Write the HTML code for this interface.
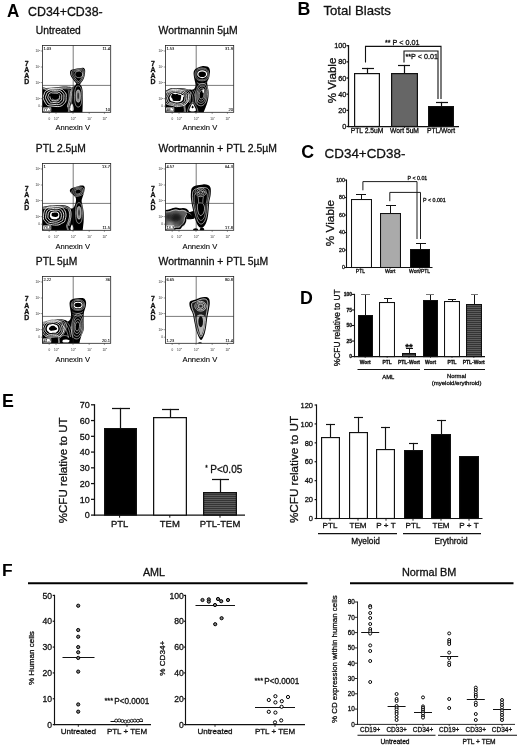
<!DOCTYPE html>
<html lang="en"><head><meta charset="utf-8"><title>Figure</title>
<style>html,body{margin:0;padding:0;background:#fff}svg{display:block}text{font-family:"Liberation Sans", Arial, Helvetica, sans-serif;stroke:#111;stroke-width:0.3px;stroke-linejoin:round}text.ns{stroke:none}text.sm{stroke-width:0.12px}text.xs{stroke-width:0.07px;stroke:#000}</style></head><body>
<svg width="520" height="745" viewBox="0 0 520 745">
<defs><pattern id="hatch" width="4" height="2" patternUnits="userSpaceOnUse"><rect width="4" height="2" fill="#343434"/><rect y="1" width="4" height="1" fill="#5c5c5c"/></pattern><filter id="b1" x="-20%" y="-20%" width="140%" height="140%"><feGaussianBlur stdDeviation="0.45"/></filter><filter id="b2" x="-20%" y="-20%" width="140%" height="140%"><feGaussianBlur stdDeviation="1.6"/></filter></defs>
<rect width="520" height="745" fill="#fff"/>
<text x="7.0" y="17.3" font-size="18" text-anchor="start" font-weight="bold" fill="#000" class="ns" textLength="12.3" lengthAdjust="spacingAndGlyphs">A</text>
<text x="28" y="16.4" font-size="12.4" text-anchor="start" fill="#111">CD34+CD38-</text>
<text x="35.8" y="34.199999999999996" font-size="10.25" text-anchor="start" fill="#111">Untreated</text>
<clipPath id="c1"><rect x="42.4" y="45.4" width="68.3" height="66.9"/></clipPath>
<g clip-path="url(#c1)">
<path d="M36.00,88.40C37.67,82.73 42.67,88.20 46.00,88.00C49.33,87.80 52.83,87.43 56.00,87.20C59.17,86.97 62.42,86.63 65.00,86.60C67.58,86.57 69.90,87.10 71.50,87.00C73.10,86.90 73.75,86.57 74.60,86.00C75.45,85.43 75.87,84.03 76.60,83.60C77.33,83.17 78.20,83.00 79.00,83.40C79.80,83.80 80.80,84.73 81.40,86.00C82.00,87.27 82.37,88.67 82.60,91.00C82.83,93.33 82.80,97.17 82.80,100.00C82.80,102.83 82.67,105.67 82.60,108.00C82.53,110.33 82.43,111.67 82.40,114.00C82.37,116.33 90.13,120.67 82.40,122.00C74.67,123.33 43.73,127.60 36.00,122.00C28.27,116.40 34.33,94.07 36.00,88.40Z" fill="#000" stroke="none" stroke-width="0"/>
<path d="M37.33,89.21C38.88,84.87 43.53,89.03 46.63,88.84C49.73,88.65 52.98,88.31 55.93,88.10C58.88,87.88 61.90,87.57 64.30,87.54C66.70,87.51 68.86,88.00 70.34,87.91C71.83,87.82 73.00,86.20 73.23,86.98C73.46,87.76 72.14,90.39 71.74,92.56C71.34,94.73 71.28,97.83 70.81,100.00C70.34,102.17 69.57,103.10 68.95,105.58C68.33,108.06 72.36,113.33 67.09,114.88C61.82,116.43 42.29,119.16 37.33,114.88C32.37,110.60 35.78,93.55 37.33,89.21Z" fill="none" stroke="#fff" stroke-width="0.55"/>
<path d="M38.85,90.14C40.27,86.17 44.52,89.97 47.35,89.80C50.18,89.63 53.16,89.32 55.85,89.12C58.54,88.92 61.30,88.64 63.50,88.61C65.70,88.58 67.67,89.03 69.03,88.95C70.39,88.87 71.45,87.39 71.66,88.10C71.87,88.81 70.67,91.22 70.30,93.20C69.93,95.18 69.88,98.02 69.45,100.00C69.03,101.98 68.32,102.83 67.75,105.10C67.18,107.37 70.87,112.18 66.05,113.60C61.23,115.02 43.38,117.51 38.85,113.60C34.32,109.69 37.43,94.11 38.85,90.14Z" fill="none" stroke="#fff" stroke-width="0.55"/>
<path d="M66.10,97.60C66.07,98.74 66.26,100.04 65.97,101.00C65.69,101.96 65.00,102.65 64.39,103.38C63.79,104.10 63.19,104.84 62.33,105.36C61.47,105.89 60.47,106.35 59.25,106.53C58.03,106.70 56.37,106.49 55.00,106.40C53.63,106.31 52.26,106.13 51.01,105.99C49.76,105.84 48.39,105.99 47.50,105.54C46.62,105.10 46.23,104.09 45.71,103.31C45.19,102.54 44.81,101.85 44.37,100.90C43.92,99.94 43.08,98.71 43.03,97.60C42.99,96.49 43.75,95.23 44.11,94.22C44.46,93.22 44.55,92.26 45.16,91.55C45.77,90.84 46.83,90.42 47.76,89.94C48.70,89.46 49.54,88.86 50.75,88.66C51.95,88.46 53.58,88.72 55.00,88.72C56.42,88.72 58.00,88.51 59.25,88.67C60.51,88.82 61.64,89.12 62.52,89.64C63.40,90.15 63.93,90.98 64.54,91.73C65.15,92.48 65.93,93.15 66.19,94.13C66.45,95.11 66.14,96.46 66.10,97.60Z" fill="none" stroke="#fff" stroke-width="0.85"/>
<path d="M63.88,97.48C63.85,98.40 64.00,99.43 63.78,100.20C63.55,100.97 63.00,101.52 62.52,102.10C62.03,102.68 61.55,103.27 60.86,103.69C60.18,104.11 59.38,104.48 58.40,104.62C57.42,104.76 56.10,104.59 55.00,104.52C53.90,104.45 52.81,104.30 51.81,104.19C50.81,104.07 49.71,104.19 49.00,103.83C48.30,103.48 47.99,102.67 47.57,102.05C47.15,101.43 46.85,100.88 46.49,100.12C46.14,99.36 45.46,98.37 45.43,97.48C45.39,96.59 46.00,95.59 46.29,94.78C46.57,93.97 46.64,93.21 47.13,92.64C47.62,92.07 48.47,91.73 49.21,91.35C49.96,90.96 50.63,90.49 51.60,90.33C52.56,90.17 53.87,90.38 55.00,90.38C56.13,90.38 57.40,90.21 58.40,90.33C59.40,90.45 60.31,90.70 61.02,91.11C61.72,91.52 62.14,92.19 62.63,92.79C63.12,93.39 63.74,93.92 63.95,94.71C64.16,95.49 63.91,96.56 63.88,97.48Z" fill="none" stroke="#fff" stroke-width="0.85"/>
<path d="M61.66,97.36C61.64,98.05 61.75,98.82 61.58,99.40C61.41,99.98 61.00,100.39 60.64,100.83C60.27,101.26 59.91,101.70 59.40,102.02C58.88,102.33 58.28,102.61 57.55,102.72C56.82,102.82 55.82,102.69 55.00,102.64C54.18,102.59 53.35,102.48 52.60,102.39C51.86,102.31 51.03,102.39 50.50,102.12C49.97,101.86 49.74,101.25 49.43,100.79C49.11,100.32 48.89,99.91 48.62,99.34C48.35,98.77 47.85,98.03 47.82,97.36C47.80,96.69 48.25,95.94 48.47,95.33C48.68,94.73 48.73,94.16 49.10,93.73C49.46,93.30 50.10,93.05 50.66,92.76C51.22,92.47 51.72,92.12 52.45,92.00C53.17,91.88 54.15,92.03 55.00,92.03C55.85,92.03 56.80,91.91 57.55,92.00C58.30,92.09 58.98,92.27 59.51,92.58C60.04,92.89 60.36,93.39 60.72,93.84C61.09,94.29 61.56,94.69 61.71,95.28C61.87,95.87 61.68,96.67 61.66,97.36Z" fill="none" stroke="#fff" stroke-width="0.85"/>
<path d="M59.66,97.25C59.65,97.73 59.73,98.28 59.61,98.68C59.49,99.08 59.20,99.37 58.95,99.68C58.69,99.98 58.44,100.29 58.08,100.51C57.72,100.73 57.30,100.93 56.78,101.00C56.27,101.07 55.58,100.99 55.00,100.95C54.42,100.91 53.85,100.83 53.32,100.77C52.80,100.71 52.22,100.77 51.85,100.59C51.48,100.40 51.32,99.98 51.10,99.65C50.88,99.33 50.72,99.04 50.53,98.64C50.35,98.24 49.99,97.72 49.97,97.25C49.96,96.78 50.28,96.26 50.43,95.83C50.57,95.41 50.61,95.01 50.87,94.71C51.12,94.41 51.57,94.24 51.96,94.03C52.35,93.83 52.71,93.58 53.21,93.50C53.72,93.41 54.40,93.52 55.00,93.52C55.60,93.52 56.26,93.44 56.79,93.50C57.31,93.56 57.79,93.69 58.16,93.91C58.53,94.12 58.75,94.47 59.01,94.79C59.26,95.10 59.59,95.38 59.70,95.80C59.81,96.21 59.68,96.77 59.66,97.25Z" fill="none" stroke="#fff" stroke-width="0.85"/>
<path d="M50.00,94.60C50.57,94.07 52.57,93.67 54.00,93.60C55.43,93.53 57.70,93.80 58.60,94.20C59.50,94.60 59.67,95.43 59.40,96.00C59.13,96.57 57.63,97.03 57.00,97.60C56.37,98.17 56.17,99.33 55.60,99.40C55.03,99.47 54.43,98.43 53.60,98.00C52.77,97.57 51.20,97.37 50.60,96.80C50.00,96.23 49.43,95.13 50.00,94.60Z" fill="#000" stroke="none" stroke-width="0"/>
<path d="M52,98.6 C54,101 57,100.6 58.6,98.4" fill="none" stroke="#fff" stroke-width="0.6"/>
<path d="M68.2,90 C69.6,95 69.2,101 67.4,107" fill="none" stroke="#fff" stroke-width="0.4"/>
<path d="M69.7,90 C71.1,95 70.7,101 68.9,107" fill="none" stroke="#fff" stroke-width="0.4"/>
<path d="M71.2,90 C72.6,95 72.2,101 70.4,107" fill="none" stroke="#fff" stroke-width="0.4"/>
<path d="M72.00,103.60C72.53,103.60 73.30,105.93 73.60,107.00C73.90,108.07 74.07,109.30 73.80,110.00C73.53,110.70 72.60,111.20 72.00,111.20C71.40,111.20 70.47,110.70 70.20,110.00C69.93,109.30 70.10,108.07 70.40,107.00C70.70,105.93 71.47,103.60 72.00,103.60Z" fill="#fff" stroke="none" stroke-width="0"/>
<path d="M81.90,96.40C81.90,97.99 81.82,99.84 81.66,101.16C81.51,102.48 81.27,103.48 80.97,104.34C80.67,105.20 80.32,105.88 79.86,106.32C79.40,106.77 78.75,107.00 78.20,107.00C77.65,107.00 77.00,106.77 76.54,106.32C76.08,105.88 75.73,105.20 75.43,104.34C75.13,103.48 74.89,102.48 74.74,101.16C74.58,99.84 74.50,97.99 74.50,96.40C74.50,94.81 74.58,92.96 74.74,91.64C74.89,90.32 75.13,89.32 75.43,88.46C75.73,87.60 76.08,86.92 76.54,86.48C77.00,86.03 77.65,85.80 78.20,85.80C78.75,85.80 79.40,86.03 79.86,86.48C80.32,86.92 80.67,87.60 80.97,88.46C81.27,89.32 81.51,90.32 81.66,91.64C81.82,92.96 81.90,94.81 81.90,96.40Z" fill="none" stroke="#fff" stroke-width="0.5"/>
<path d="M80.42,96.06C80.42,96.98 80.37,98.06 80.28,98.83C80.19,99.59 80.04,100.17 79.86,100.67C79.68,101.17 79.47,101.56 79.20,101.82C78.92,102.08 78.53,102.21 78.20,102.21C77.87,102.21 77.48,102.08 77.20,101.82C76.93,101.56 76.72,101.17 76.54,100.67C76.36,100.17 76.21,99.59 76.12,98.83C76.03,98.06 75.98,96.98 75.98,96.06C75.98,95.14 76.03,94.07 76.12,93.30C76.21,92.54 76.36,91.96 76.54,91.46C76.72,90.96 76.93,90.57 77.20,90.31C77.48,90.05 77.87,89.92 78.20,89.92C78.53,89.92 78.92,90.05 79.20,90.31C79.47,90.57 79.68,90.96 79.86,91.46C80.04,91.96 80.19,92.54 80.28,93.30C80.37,94.07 80.42,95.14 80.42,96.06Z" fill="#8a8a8a" stroke="#fff" stroke-width="0.55"/>
<path d="M79.01,95.84C79.01,96.32 79.00,96.87 78.96,97.27C78.93,97.67 78.88,97.96 78.81,98.22C78.74,98.48 78.67,98.68 78.57,98.82C78.46,98.95 78.32,99.02 78.20,99.02C78.08,99.02 77.94,98.95 77.83,98.82C77.73,98.68 77.66,98.48 77.59,98.22C77.52,97.96 77.47,97.67 77.44,97.27C77.40,96.87 77.39,96.32 77.39,95.84C77.39,95.36 77.40,94.81 77.44,94.41C77.47,94.01 77.52,93.72 77.59,93.46C77.66,93.20 77.73,93.00 77.83,92.86C77.94,92.73 78.08,92.66 78.20,92.66C78.32,92.66 78.46,92.73 78.57,92.86C78.67,93.00 78.74,93.20 78.81,93.46C78.88,93.72 78.93,94.01 78.96,94.41C79.00,94.81 79.01,95.36 79.01,95.84Z" fill="#333" stroke="none" stroke-width="0"/>
<path d="M70.00,72.80C70.03,71.93 70.03,70.83 70.80,70.20C71.57,69.57 73.17,69.33 74.60,69.00C76.03,68.67 77.97,68.40 79.40,68.20C80.83,68.00 82.27,67.53 83.20,67.80C84.13,68.07 84.70,68.83 85.00,69.80C85.30,70.77 85.17,72.23 85.00,73.60C84.83,74.97 84.50,76.67 84.00,78.00C83.50,79.33 82.73,80.50 82.00,81.60C81.27,82.70 80.37,84.10 79.60,84.60C78.83,85.10 78.17,85.03 77.40,84.60C76.63,84.17 75.83,83.03 75.00,82.00C74.17,80.97 73.13,79.50 72.40,78.40C71.67,77.30 71.00,76.33 70.60,75.40C70.20,74.47 69.97,73.67 70.00,72.80Z" fill="#000" stroke="none" stroke-width="0"/>
<path d="M71.38,73.12C71.40,72.39 71.40,71.47 72.05,70.94C72.69,70.40 74.04,70.21 75.24,69.93C76.44,69.65 78.07,69.42 79.27,69.26C80.48,69.09 81.68,68.70 82.46,68.92C83.25,69.14 83.72,69.79 83.98,70.60C84.23,71.41 84.12,72.64 83.98,73.79C83.84,74.94 83.56,76.37 83.14,77.49C82.72,78.61 82.07,79.59 81.46,80.51C80.84,81.44 80.08,82.61 79.44,83.03C78.80,83.45 78.24,83.40 77.59,83.03C76.95,82.67 76.28,81.72 75.58,80.85C74.88,79.98 74.01,78.75 73.39,77.82C72.78,76.90 72.22,76.09 71.88,75.30C71.54,74.52 71.35,73.85 71.38,73.12Z" fill="none" stroke="#fff" stroke-width="0.5"/>
<path d="M72.92,73.48C72.95,72.91 72.95,72.18 73.45,71.76C73.96,71.35 75.01,71.19 75.96,70.97C76.91,70.75 78.18,70.58 79.13,70.44C80.07,70.31 81.02,70.00 81.64,70.18C82.25,70.36 82.63,70.86 82.82,71.50C83.02,72.14 82.93,73.11 82.82,74.01C82.71,74.91 82.49,76.03 82.16,76.91C81.83,77.79 81.33,78.56 80.84,79.29C80.36,80.01 79.77,80.94 79.26,81.27C78.75,81.60 78.31,81.55 77.81,81.27C77.30,80.98 76.77,80.23 76.22,79.55C75.67,78.87 74.99,77.90 74.51,77.18C74.02,76.45 73.58,75.81 73.32,75.20C73.06,74.58 72.90,74.05 72.92,73.48Z" fill="none" stroke="#fff" stroke-width="0.5"/>
<path d="M82.70,74.40C82.70,74.90 82.57,75.45 82.33,75.89C82.10,76.32 81.72,76.72 81.29,77.01C80.85,77.30 80.30,77.52 79.73,77.62C79.16,77.72 78.44,77.72 77.87,77.62C77.30,77.52 76.75,77.30 76.31,77.01C75.88,76.72 75.50,76.32 75.27,75.89C75.03,75.45 74.90,74.90 74.90,74.40C74.90,73.90 75.03,73.35 75.27,72.91C75.50,72.48 75.88,72.08 76.31,71.79C76.75,71.50 77.30,71.28 77.87,71.18C78.44,71.08 79.16,71.08 79.73,71.18C80.30,71.28 80.85,71.50 81.29,71.79C81.72,72.08 82.10,72.48 82.33,72.91C82.57,73.35 82.70,73.90 82.70,74.40Z" fill="none" stroke="#fff" stroke-width="0.5"/>
<ellipse cx="79" cy="74.4" rx="2.3" ry="1.9" fill="#000" stroke="none" stroke-width="0.5"/>
</g>
<line x1="73.2" y1="45.4" x2="73.2" y2="112.30000000000001" stroke="#222" stroke-width="0.6"/>
<line x1="42.4" y1="85.4" x2="110.69999999999999" y2="85.4" stroke="#222" stroke-width="0.6"/>
<rect x="42.4" y="45.4" width="68.3" height="66.9" fill="none" stroke="#222" stroke-width="0.8"/>
<text x="43.4" y="50.1" font-size="4.0" text-anchor="start" fill="#000" class="xs">1.03</text>
<text x="109.89999999999999" y="50.1" font-size="4.0" text-anchor="end" fill="#000" class="xs">11.4</text>
<rect x="43.199999999999996" y="107.50000000000001" width="8.0" height="4.0" fill="#fff" stroke="none" stroke-width="0"/>
<text x="43.4" y="111.10000000000001" font-size="4.0" text-anchor="start" fill="#000" class="xs">77.1</text>
<text x="109.89999999999999" y="111.10000000000001" font-size="4.0" text-anchor="end" fill="#000" class="xs">10</text>
<line x1="40.8" y1="51.0" x2="42.4" y2="51.0" stroke="#333" stroke-width="0.5"/>
<text x="35.6" y="52.1" font-size="3.1" fill="#222" class="ns">10<tspan dy="-1.2" font-size="2.3">5</tspan></text>
<line x1="40.8" y1="67.0" x2="42.4" y2="67.0" stroke="#333" stroke-width="0.5"/>
<text x="35.6" y="68.1" font-size="3.1" fill="#222" class="ns">10<tspan dy="-1.2" font-size="2.3">4</tspan></text>
<line x1="40.8" y1="82.6" x2="42.4" y2="82.6" stroke="#333" stroke-width="0.5"/>
<text x="35.6" y="83.7" font-size="3.1" fill="#222" class="ns">10<tspan dy="-1.2" font-size="2.3">3</tspan></text>
<line x1="40.8" y1="98.69999999999999" x2="42.4" y2="98.69999999999999" stroke="#333" stroke-width="0.5"/>
<text x="35.6" y="99.8" font-size="3.1" fill="#222" class="ns">10<tspan dy="-1.2" font-size="2.3">2</tspan></text>
<line x1="40.8" y1="106.19999999999999" x2="42.4" y2="106.19999999999999" stroke="#333" stroke-width="0.5"/>
<text x="38.199999999999996" y="107.19999999999999" font-size="3.1" text-anchor="start" fill="#222" class="ns">0</text>
<line x1="56.0" y1="112.30000000000001" x2="56.0" y2="113.9" stroke="#333" stroke-width="0.5"/>
<text x="54.0" y="119.5" font-size="3.1" fill="#222" class="ns">10<tspan dy="-1.2" font-size="2.3">2</tspan></text>
<line x1="73.0" y1="112.30000000000001" x2="73.0" y2="113.9" stroke="#333" stroke-width="0.5"/>
<text x="71.0" y="119.5" font-size="3.1" fill="#222" class="ns">10<tspan dy="-1.2" font-size="2.3">3</tspan></text>
<line x1="89.19999999999999" y1="112.30000000000001" x2="89.19999999999999" y2="113.9" stroke="#333" stroke-width="0.5"/>
<text x="87.2" y="119.5" font-size="3.1" fill="#222" class="ns">10<tspan dy="-1.2" font-size="2.3">4</tspan></text>
<line x1="104.4" y1="112.30000000000001" x2="104.4" y2="113.9" stroke="#333" stroke-width="0.5"/>
<text x="102.4" y="119.5" font-size="3.1" fill="#222" class="ns">10<tspan dy="-1.2" font-size="2.3">5</tspan></text>
<line x1="49.199999999999996" y1="112.30000000000001" x2="49.199999999999996" y2="113.9" stroke="#333" stroke-width="0.5"/>
<text x="48.4" y="119.50000000000001" font-size="3.1" text-anchor="start" fill="#222" class="ns">0</text>
<text x="26.7" y="65.7" font-size="6.9" text-anchor="middle" font-weight="bold" fill="#111">7</text>
<text x="26.7" y="71.9" font-size="6.9" text-anchor="middle" font-weight="bold" fill="#111">A</text>
<text x="26.7" y="78.1" font-size="6.9" text-anchor="middle" font-weight="bold" fill="#111">A</text>
<text x="26.7" y="84.3" font-size="6.9" text-anchor="middle" font-weight="bold" fill="#111">D</text>
<text x="72.7" y="129.6" font-size="7.6" text-anchor="middle" fill="#000" class="sm">Annexin V</text>
<text x="158.6" y="34.199999999999996" font-size="10.4" text-anchor="start" fill="#111">Wortmannin 5µM</text>
<clipPath id="c2"><rect x="165.4" y="45.4" width="68.3" height="66.9"/></clipPath>
<g clip-path="url(#c2)">
<path d="M159.00,91.60C160.17,86.37 164.17,91.10 166.00,90.60C167.83,90.10 168.33,89.03 170.00,88.60C171.67,88.17 173.83,88.07 176.00,88.00C178.17,87.93 180.67,87.93 183.00,88.20C185.33,88.47 188.17,89.47 190.00,89.60C191.83,89.73 193.07,89.77 194.00,89.00C194.93,88.23 195.50,86.50 195.60,85.00C195.70,83.50 194.93,81.83 194.60,80.00C194.27,78.17 193.67,75.60 193.60,74.00C193.53,72.40 193.63,71.40 194.20,70.40C194.77,69.40 195.70,68.70 197.00,68.00C198.30,67.30 200.33,66.43 202.00,66.20C203.67,65.97 205.77,66.20 207.00,66.60C208.23,67.00 208.90,67.63 209.40,68.60C209.90,69.57 210.07,70.83 210.00,72.40C209.93,73.97 209.47,76.40 209.00,78.00C208.53,79.60 207.43,80.67 207.20,82.00C206.97,83.33 207.37,84.33 207.60,86.00C207.83,87.67 208.53,89.67 208.60,92.00C208.67,94.33 208.53,97.33 208.00,100.00C207.47,102.67 206.13,105.83 205.40,108.00C204.67,110.17 204.00,110.67 203.60,113.00C203.20,115.33 210.43,120.50 203.00,122.00C195.57,123.50 166.33,127.07 159.00,122.00C151.67,116.93 157.83,96.83 159.00,91.60Z" fill="#000" stroke="none" stroke-width="0"/>
<path d="M160.28,92.27C161.35,88.38 165.03,91.81 166.72,91.35C168.41,90.89 168.87,89.91 170.40,89.51C171.93,89.11 173.93,89.02 175.92,88.96C177.91,88.90 180.21,88.90 182.36,89.14C184.51,89.39 187.42,89.54 188.80,90.43C190.18,91.32 190.64,92.73 190.64,94.48C190.64,96.23 189.72,99.08 188.80,100.92C187.88,102.76 186.04,103.22 185.12,105.52C184.20,107.82 187.42,113.19 183.28,114.72C179.14,116.25 164.11,118.46 160.28,114.72C156.45,110.98 159.21,96.17 160.28,92.27Z" fill="none" stroke="#fff" stroke-width="0.55"/>
<path d="M161.72,93.03C162.69,89.51 166.01,92.61 167.53,92.20C169.05,91.78 169.47,90.90 170.85,90.54C172.23,90.18 174.03,90.10 175.83,90.04C177.63,89.98 179.70,89.98 181.64,90.21C183.58,90.43 186.20,90.57 187.45,91.37C188.69,92.17 189.11,93.44 189.11,95.02C189.11,96.60 188.28,99.17 187.45,100.83C186.62,102.49 184.96,102.91 184.13,104.98C183.30,107.06 186.20,111.90 182.47,113.28C178.74,114.66 165.18,116.66 161.72,113.28C158.26,109.90 160.75,96.54 161.72,93.03Z" fill="none" stroke="#fff" stroke-width="0.55"/>
<path d="M188.37,97.80C188.33,98.89 188.33,100.12 188.05,101.05C187.76,101.98 187.25,102.69 186.64,103.39C186.03,104.08 185.33,104.76 184.38,105.21C183.43,105.66 182.29,105.85 180.96,106.09C179.63,106.32 177.86,106.74 176.40,106.63C174.94,106.51 173.47,105.70 172.22,105.40C170.96,105.10 169.89,105.13 168.85,104.81C167.81,104.49 166.65,104.11 165.98,103.48C165.32,102.85 165.21,101.96 164.88,101.01C164.56,100.07 163.91,98.84 164.03,97.80C164.15,96.76 165.19,95.69 165.61,94.79C166.03,93.89 165.97,93.06 166.55,92.43C167.12,91.79 168.15,91.43 169.05,90.97C169.95,90.52 170.72,89.98 171.94,89.70C173.17,89.43 174.96,89.24 176.40,89.33C177.84,89.41 179.36,89.94 180.58,90.21C181.80,90.49 182.81,90.61 183.72,91.00C184.63,91.39 185.27,91.97 186.03,92.55C186.79,93.13 187.89,93.61 188.28,94.49C188.67,95.36 188.41,96.71 188.37,97.80Z" fill="none" stroke="#fff" stroke-width="0.8"/>
<path d="M186.70,97.80C186.66,98.74 186.66,99.79 186.41,100.59C186.17,101.39 185.73,102.01 185.21,102.60C184.68,103.20 184.08,103.79 183.26,104.18C182.45,104.56 181.47,104.73 180.32,104.93C179.18,105.13 177.65,105.49 176.40,105.39C175.15,105.29 173.88,104.60 172.80,104.34C171.72,104.08 170.80,104.10 169.91,103.83C169.02,103.55 168.01,103.23 167.44,102.69C166.87,102.14 166.77,101.38 166.49,100.56C166.21,99.75 165.66,98.69 165.76,97.80C165.87,96.91 166.76,95.98 167.12,95.21C167.48,94.44 167.43,93.72 167.93,93.18C168.42,92.63 169.31,92.32 170.08,91.93C170.85,91.54 171.51,91.07 172.57,90.84C173.62,90.60 175.16,90.44 176.40,90.51C177.64,90.59 178.94,91.04 179.99,91.28C181.04,91.52 181.91,91.62 182.70,91.95C183.48,92.29 184.03,92.78 184.68,93.28C185.33,93.78 186.28,94.20 186.62,94.95C186.95,95.70 186.73,96.86 186.70,97.80Z" fill="none" stroke="#fff" stroke-width="0.8"/>
<path d="M185.02,97.80C184.99,98.59 184.99,99.47 184.78,100.14C184.58,100.81 184.21,101.32 183.77,101.82C183.33,102.32 182.83,102.81 182.15,103.14C181.46,103.46 180.64,103.60 179.68,103.77C178.73,103.94 177.45,104.24 176.40,104.15C175.35,104.07 174.29,103.49 173.39,103.27C172.48,103.05 171.71,103.08 170.97,102.85C170.22,102.62 169.38,102.35 168.90,101.89C168.42,101.44 168.34,100.80 168.11,100.11C167.87,99.43 167.41,98.55 167.50,97.80C167.58,97.05 168.33,96.28 168.63,95.63C168.93,94.99 168.89,94.39 169.31,93.93C169.72,93.47 170.46,93.21 171.11,92.89C171.76,92.56 172.31,92.17 173.19,91.97C174.07,91.77 175.36,91.64 176.40,91.70C177.44,91.76 178.53,92.14 179.41,92.34C180.28,92.54 181.02,92.62 181.67,92.90C182.33,93.18 182.78,93.60 183.33,94.02C183.88,94.44 184.67,94.78 184.96,95.41C185.24,96.04 185.05,97.01 185.02,97.80Z" fill="none" stroke="#fff" stroke-width="0.8"/>
<path d="M183.11,97.62C183.08,98.24 183.08,98.92 182.92,99.44C182.76,99.96 182.48,100.36 182.13,100.75C181.79,101.14 181.40,101.52 180.87,101.78C180.34,102.03 179.70,102.13 178.95,102.27C178.21,102.40 177.22,102.63 176.40,102.57C175.58,102.50 174.76,102.05 174.06,101.88C173.35,101.71 172.76,101.73 172.17,101.55C171.59,101.37 170.94,101.16 170.57,100.81C170.20,100.45 170.13,99.95 169.95,99.42C169.77,98.89 169.41,98.20 169.47,97.62C169.54,97.04 170.12,96.44 170.36,95.94C170.59,95.44 170.56,94.97 170.88,94.61C171.20,94.26 171.78,94.06 172.29,93.80C172.79,93.55 173.22,93.24 173.90,93.09C174.59,92.94 175.59,92.83 176.40,92.88C177.21,92.93 178.06,93.22 178.74,93.38C179.42,93.53 179.99,93.60 180.50,93.82C181.01,94.03 181.37,94.36 181.79,94.68C182.22,95.01 182.84,95.28 183.05,95.77C183.27,96.26 183.13,97.01 183.11,97.62Z" fill="#fff" stroke="none" stroke-width="0"/>
<path d="M181.08,97.20C180.99,97.82 181.02,98.33 180.84,98.94C180.66,99.56 180.57,100.56 179.98,100.90C179.39,101.23 178.11,100.92 177.29,100.94C176.48,100.96 175.81,101.11 175.08,101.02C174.36,100.92 173.39,100.78 172.95,100.38C172.50,99.98 172.70,99.16 172.41,98.63C172.11,98.09 171.34,97.74 171.17,97.20C171.00,96.66 171.16,95.98 171.40,95.40C171.65,94.82 171.97,93.91 172.63,93.70C173.28,93.50 174.55,94.16 175.31,94.17C176.08,94.18 176.64,93.67 177.20,93.77C177.76,93.87 177.98,94.53 178.68,94.77C179.38,95.02 181.00,94.84 181.40,95.25C181.80,95.65 181.17,96.58 181.08,97.20Z" fill="#000" stroke="none" stroke-width="0"/>
<ellipse cx="182.6" cy="96.0" rx="1.5" ry="1.1" fill="#fff" stroke="none" stroke-width="0.5"/>
<path d="M190.6,91.6 C193,95 193.6,99 192.8,102.6 M192.4,90.6 C195,94 195.8,99 195.2,103.4 M194.4,89.8 C196.6,93 197.2,99 197,104.6 M188.6,93 C190.6,96 190.8,100 189.6,103" fill="none" stroke="#fff" stroke-width="0.45"/>
<path d="M192.60,103.60C193.33,103.60 194.23,105.87 194.80,107.00C195.37,108.13 196.37,109.67 196.00,110.40C195.63,111.13 193.70,111.40 192.60,111.40C191.50,111.40 189.77,111.13 189.40,110.40C189.03,109.67 189.87,108.13 190.40,107.00C190.93,105.87 191.87,103.60 192.60,103.60Z" fill="#fff" stroke="none" stroke-width="0"/>
<path d="M192.60,105.40C192.93,105.40 193.60,106.93 193.60,107.40C193.60,107.87 192.93,108.20 192.60,108.20C192.27,108.20 191.60,107.87 191.60,107.40C191.60,106.93 192.27,105.40 192.60,105.40Z" fill="#000" stroke="none" stroke-width="0"/>
<path d="M187.4,112 C188,108 189.6,104.6 192.6,102 C195.6,104.6 197.6,108 198,112" fill="none" stroke="#fff" stroke-width="0.45"/>
<path d="M207.45,95.30C207.25,96.92 206.89,98.76 206.47,100.11C206.05,101.46 205.53,102.52 204.93,103.39C204.33,104.27 203.66,104.95 202.88,105.34C202.10,105.74 201.10,105.88 200.25,105.78C199.41,105.68 198.47,105.31 197.81,104.73C197.14,104.16 196.65,103.34 196.28,102.35C195.90,101.36 195.65,100.20 195.56,98.79C195.47,97.38 195.56,95.51 195.75,93.90C195.95,92.28 196.31,90.44 196.73,89.09C197.15,87.74 197.67,86.68 198.27,85.81C198.87,84.93 199.54,84.25 200.32,83.86C201.10,83.46 202.10,83.32 202.95,83.42C203.79,83.52 204.73,83.89 205.39,84.47C206.06,85.04 206.55,85.86 206.92,86.85C207.30,87.84 207.55,89.00 207.64,90.41C207.73,91.82 207.64,93.69 207.45,95.30Z" fill="none" stroke="#fff" stroke-width="0.55"/>
<path d="M206.17,95.15C206.01,96.41 205.73,97.85 205.41,98.90C205.08,99.96 204.67,100.79 204.20,101.47C203.73,102.15 203.21,102.68 202.60,102.99C201.99,103.31 201.21,103.42 200.55,103.34C199.89,103.26 199.15,102.96 198.64,102.52C198.12,102.07 197.73,101.43 197.44,100.66C197.15,99.88 196.95,98.98 196.88,97.88C196.81,96.77 196.88,95.31 197.03,94.05C197.19,92.79 197.47,91.35 197.79,90.30C198.12,89.24 198.53,88.41 199.00,87.73C199.47,87.05 199.99,86.52 200.60,86.21C201.21,85.89 201.99,85.78 202.65,85.86C203.31,85.94 204.05,86.24 204.56,86.68C205.08,87.13 205.47,87.77 205.76,88.54C206.05,89.32 206.25,90.22 206.32,91.32C206.39,92.43 206.32,93.89 206.17,95.15Z" fill="none" stroke="#fff" stroke-width="0.55"/>
<path d="M204.98,95.01C204.87,95.94 204.66,97.01 204.42,97.78C204.17,98.56 203.87,99.18 203.52,99.68C203.18,100.19 202.79,100.58 202.34,100.81C201.89,101.04 201.31,101.12 200.82,101.07C200.33,101.01 199.79,100.79 199.41,100.46C199.02,100.13 198.74,99.65 198.52,99.08C198.31,98.51 198.16,97.84 198.11,97.02C198.06,96.21 198.11,95.13 198.22,94.19C198.33,93.26 198.54,92.19 198.78,91.42C199.03,90.64 199.33,90.02 199.68,89.52C200.02,89.01 200.41,88.62 200.86,88.39C201.31,88.16 201.89,88.08 202.38,88.13C202.87,88.19 203.41,88.41 203.79,88.74C204.18,89.07 204.46,89.55 204.68,90.12C204.89,90.69 205.04,91.36 205.09,92.18C205.14,92.99 205.09,94.07 204.98,95.01Z" fill="none" stroke="#fff" stroke-width="0.55"/>
<path d="M203.88,94.88C203.81,95.51 203.67,96.23 203.50,96.75C203.34,97.28 203.13,97.69 202.90,98.04C202.67,98.38 202.40,98.64 202.10,98.80C201.79,98.95 201.40,99.01 201.07,98.97C200.74,98.93 200.38,98.78 200.12,98.56C199.86,98.33 199.67,98.01 199.52,97.63C199.37,97.24 199.27,96.79 199.24,96.24C199.21,95.69 199.24,94.96 199.32,94.32C199.39,93.69 199.53,92.97 199.70,92.45C199.86,91.92 200.07,91.51 200.30,91.16C200.53,90.82 200.80,90.56 201.10,90.40C201.41,90.25 201.80,90.19 202.13,90.23C202.46,90.27 202.82,90.42 203.08,90.64C203.34,90.87 203.53,91.19 203.68,91.57C203.83,91.96 203.93,92.41 203.96,92.96C203.99,93.51 203.96,94.24 203.88,94.88Z" fill="none" stroke="#fff" stroke-width="0.55"/>
<ellipse cx="203.2" cy="91" rx="0.8" ry="2.0" fill="#fff" stroke="none" stroke-width="0.5"/>
<path d="M209.00,74.40C209.00,75.33 208.84,76.39 208.53,77.18C208.23,77.97 207.76,78.60 207.18,79.13C206.60,79.67 205.90,80.10 205.04,80.37C204.17,80.65 203.01,80.80 202.00,80.80C200.99,80.80 199.83,80.65 198.96,80.37C198.10,80.10 197.40,79.67 196.82,79.13C196.24,78.60 195.77,77.97 195.47,77.18C195.16,76.39 195.00,75.33 195.00,74.40C195.00,73.47 195.16,72.41 195.47,71.62C195.77,70.83 196.24,70.20 196.82,69.67C197.40,69.13 198.10,68.70 198.96,68.43C199.83,68.15 200.99,68.00 202.00,68.00C203.01,68.00 204.17,68.15 205.04,68.43C205.90,68.70 206.60,69.13 207.18,69.67C207.76,70.20 208.23,70.83 208.53,71.62C208.84,72.41 209.00,73.47 209.00,74.40Z" fill="none" stroke="#fff" stroke-width="0.45"/>
<path d="M207.88,74.40C207.88,75.18 207.74,76.07 207.49,76.73C207.23,77.39 206.84,77.93 206.35,78.38C205.86,78.82 205.28,79.19 204.55,79.42C203.83,79.65 202.85,79.78 202.00,79.78C201.15,79.78 200.17,79.65 199.45,79.42C198.72,79.19 198.14,78.82 197.65,78.38C197.16,77.93 196.77,77.39 196.51,76.73C196.26,76.07 196.12,75.18 196.12,74.40C196.12,73.62 196.26,72.73 196.51,72.07C196.77,71.41 197.16,70.87 197.65,70.42C198.14,69.98 198.72,69.61 199.45,69.38C200.17,69.15 201.15,69.02 202.00,69.02C202.85,69.02 203.83,69.15 204.55,69.38C205.28,69.61 205.86,69.98 206.35,70.42C206.84,70.87 207.23,71.41 207.49,72.07C207.74,72.73 207.88,73.62 207.88,74.40Z" fill="none" stroke="#fff" stroke-width="0.45"/>
<ellipse cx="202.2" cy="74.2" rx="4.4" ry="3.4" fill="#000" stroke="#fff" stroke-width="1.2"/>
<path d="M197,82.6 C199.6,84.6 204,84.6 206.4,82.4 M198,85 C200,86.2 204,86.2 206.2,84.8" fill="none" stroke="#fff" stroke-width="0.45"/>
</g>
<line x1="196.20000000000002" y1="45.4" x2="196.20000000000002" y2="112.30000000000001" stroke="#222" stroke-width="0.6"/>
<line x1="165.4" y1="85.4" x2="233.7" y2="85.4" stroke="#222" stroke-width="0.6"/>
<rect x="165.4" y="45.4" width="68.3" height="66.9" fill="none" stroke="#222" stroke-width="0.8"/>
<text x="166.4" y="50.1" font-size="4.0" text-anchor="start" fill="#000" class="xs">1.53</text>
<text x="232.89999999999998" y="50.1" font-size="4.0" text-anchor="end" fill="#000" class="xs">31.9</text>
<rect x="166.20000000000002" y="107.50000000000001" width="8.0" height="4.0" fill="#fff" stroke="none" stroke-width="0"/>
<text x="166.4" y="111.10000000000001" font-size="4.0" text-anchor="start" fill="#000" class="xs">46.1</text>
<text x="232.89999999999998" y="111.10000000000001" font-size="4.0" text-anchor="end" fill="#000" class="xs">20</text>
<line x1="163.8" y1="51.0" x2="165.4" y2="51.0" stroke="#333" stroke-width="0.5"/>
<text x="158.6" y="52.1" font-size="3.1" fill="#222" class="ns">10<tspan dy="-1.2" font-size="2.3">5</tspan></text>
<line x1="163.8" y1="67.0" x2="165.4" y2="67.0" stroke="#333" stroke-width="0.5"/>
<text x="158.6" y="68.1" font-size="3.1" fill="#222" class="ns">10<tspan dy="-1.2" font-size="2.3">4</tspan></text>
<line x1="163.8" y1="82.6" x2="165.4" y2="82.6" stroke="#333" stroke-width="0.5"/>
<text x="158.6" y="83.7" font-size="3.1" fill="#222" class="ns">10<tspan dy="-1.2" font-size="2.3">3</tspan></text>
<line x1="163.8" y1="98.69999999999999" x2="165.4" y2="98.69999999999999" stroke="#333" stroke-width="0.5"/>
<text x="158.6" y="99.8" font-size="3.1" fill="#222" class="ns">10<tspan dy="-1.2" font-size="2.3">2</tspan></text>
<line x1="163.8" y1="106.19999999999999" x2="165.4" y2="106.19999999999999" stroke="#333" stroke-width="0.5"/>
<text x="161.20000000000002" y="107.19999999999999" font-size="3.1" text-anchor="start" fill="#222" class="ns">0</text>
<line x1="179.0" y1="112.30000000000001" x2="179.0" y2="113.9" stroke="#333" stroke-width="0.5"/>
<text x="177.0" y="119.5" font-size="3.1" fill="#222" class="ns">10<tspan dy="-1.2" font-size="2.3">2</tspan></text>
<line x1="196.0" y1="112.30000000000001" x2="196.0" y2="113.9" stroke="#333" stroke-width="0.5"/>
<text x="194.0" y="119.5" font-size="3.1" fill="#222" class="ns">10<tspan dy="-1.2" font-size="2.3">3</tspan></text>
<line x1="212.2" y1="112.30000000000001" x2="212.2" y2="113.9" stroke="#333" stroke-width="0.5"/>
<text x="210.2" y="119.5" font-size="3.1" fill="#222" class="ns">10<tspan dy="-1.2" font-size="2.3">4</tspan></text>
<line x1="227.4" y1="112.30000000000001" x2="227.4" y2="113.9" stroke="#333" stroke-width="0.5"/>
<text x="225.4" y="119.5" font-size="3.1" fill="#222" class="ns">10<tspan dy="-1.2" font-size="2.3">5</tspan></text>
<line x1="172.20000000000002" y1="112.30000000000001" x2="172.20000000000002" y2="113.9" stroke="#333" stroke-width="0.5"/>
<text x="171.4" y="119.50000000000001" font-size="3.1" text-anchor="start" fill="#222" class="ns">0</text>
<text x="153" y="65.7" font-size="6.9" text-anchor="middle" font-weight="bold" fill="#111">7</text>
<text x="153" y="71.9" font-size="6.9" text-anchor="middle" font-weight="bold" fill="#111">A</text>
<text x="153" y="78.1" font-size="6.9" text-anchor="middle" font-weight="bold" fill="#111">A</text>
<text x="153" y="84.3" font-size="6.9" text-anchor="middle" font-weight="bold" fill="#111">D</text>
<text x="199.9" y="129.6" font-size="7.6" text-anchor="middle" fill="#000" class="sm">Annexin V</text>
<text x="35.8" y="152.4" font-size="10.25" text-anchor="start" fill="#111">PTL 2.5µM</text>
<clipPath id="c3"><rect x="42.4" y="163.4" width="68.3" height="66.9"/></clipPath>
<g clip-path="url(#c3)">
<path d="M36.00,207.40C37.00,201.90 39.67,207.30 42.00,207.00C44.33,206.70 47.00,205.93 50.00,205.60C53.00,205.27 57.17,204.93 60.00,205.00C62.83,205.07 65.17,205.43 67.00,206.00C68.83,206.57 69.90,208.13 71.00,208.40C72.10,208.67 72.83,208.50 73.60,207.60C74.37,206.70 75.23,204.60 75.60,203.00C75.97,201.40 76.23,199.33 75.80,198.00C75.37,196.67 73.97,196.10 73.00,195.00C72.03,193.90 70.33,192.47 70.00,191.40C69.67,190.33 69.83,189.40 71.00,188.60C72.17,187.80 75.17,187.10 77.00,186.60C78.83,186.10 80.73,185.53 82.00,185.60C83.27,185.67 84.23,185.93 84.60,187.00C84.97,188.07 84.53,190.33 84.20,192.00C83.87,193.67 83.03,195.50 82.60,197.00C82.17,198.50 81.63,199.67 81.60,201.00C81.57,202.33 82.07,203.17 82.40,205.00C82.73,206.83 83.40,209.17 83.60,212.00C83.80,214.83 83.77,218.83 83.60,222.00C83.43,225.17 82.80,228.00 82.60,231.00C82.40,234.00 90.17,238.50 82.40,240.00C74.63,241.50 43.73,245.43 36.00,240.00C28.27,234.57 35.00,212.90 36.00,207.40Z" fill="#000" stroke="none" stroke-width="0"/>
<path d="M37.30,208.14C38.23,203.96 40.71,208.05 42.88,207.77C45.05,207.49 47.53,206.78 50.32,206.47C53.11,206.16 56.99,205.85 59.62,205.91C62.26,205.97 64.43,206.31 66.13,206.84C67.84,207.37 69.02,207.83 69.85,209.07C70.69,210.31 71.15,212.33 71.15,214.28C71.15,216.23 70.44,218.77 69.85,220.79C69.26,222.81 68.24,224.36 67.62,226.37C67.00,228.38 71.19,231.79 66.13,232.88C61.08,233.97 42.11,237.00 37.30,232.88C32.50,228.76 36.37,212.33 37.30,208.14Z" fill="none" stroke="#fff" stroke-width="0.55"/>
<path d="M38.79,208.99C39.64,205.17 41.91,208.91 43.89,208.65C45.87,208.40 48.14,207.74 50.69,207.46C53.24,207.18 56.78,206.89 59.19,206.95C61.60,207.01 63.58,207.32 65.14,207.80C66.70,208.28 67.77,208.71 68.54,209.84C69.30,210.97 69.73,212.81 69.73,214.60C69.73,216.38 69.08,218.71 68.54,220.55C68.00,222.39 67.07,223.81 66.50,225.65C65.93,227.49 69.76,230.61 65.14,231.60C60.52,232.59 43.18,235.37 38.79,231.60C34.40,227.83 37.94,212.81 38.79,208.99Z" fill="none" stroke="#fff" stroke-width="0.55"/>
<path d="M66.00,215.80C65.95,216.93 65.59,218.13 65.33,219.14C65.07,220.15 65.04,221.17 64.43,221.87C63.82,222.57 62.59,222.82 61.66,223.31C60.74,223.81 60.06,224.55 58.89,224.84C57.71,225.13 55.99,225.15 54.60,225.07C53.21,225.00 51.75,224.65 50.52,224.41C49.29,224.17 48.07,224.14 47.21,223.65C46.36,223.17 45.97,222.24 45.36,221.50C44.75,220.77 43.87,220.19 43.56,219.24C43.25,218.29 43.44,216.93 43.50,215.80C43.56,214.67 43.69,213.47 43.94,212.48C44.19,211.49 44.48,210.66 44.99,209.86C45.49,209.07 46.06,208.15 46.98,207.69C47.90,207.24 49.22,207.30 50.49,207.13C51.76,206.96 53.19,206.74 54.60,206.66C56.01,206.58 57.64,206.52 58.92,206.68C60.21,206.83 61.40,207.08 62.31,207.60C63.22,208.12 63.81,208.98 64.36,209.77C64.91,210.57 65.33,211.37 65.60,212.38C65.87,213.38 66.04,214.67 66.00,215.80Z" fill="none" stroke="#fff" stroke-width="0.85"/>
<path d="M63.72,215.72C63.68,216.62 63.39,217.58 63.18,218.39C62.97,219.20 62.95,220.02 62.47,220.58C61.98,221.13 60.99,221.33 60.25,221.73C59.51,222.13 58.97,222.72 58.03,222.95C57.09,223.19 55.72,223.20 54.60,223.14C53.48,223.08 52.32,222.80 51.34,222.61C50.35,222.42 49.38,222.39 48.69,222.00C48.00,221.62 47.70,220.87 47.21,220.28C46.72,219.69 46.02,219.23 45.77,218.47C45.52,217.71 45.67,216.62 45.72,215.72C45.77,214.82 45.87,213.86 46.07,213.07C46.27,212.27 46.50,211.61 46.91,210.97C47.32,210.33 47.77,209.60 48.50,209.24C49.24,208.87 50.30,208.92 51.31,208.79C52.33,208.65 53.48,208.47 54.60,208.41C55.72,208.35 57.03,208.30 58.06,208.42C59.09,208.55 60.04,208.75 60.77,209.16C61.49,209.57 61.97,210.26 62.41,210.90C62.85,211.54 63.18,212.18 63.40,212.98C63.62,213.78 63.75,214.82 63.72,215.72Z" fill="none" stroke="#fff" stroke-width="0.85"/>
<path d="M61.44,215.64C61.41,216.32 61.19,217.04 61.04,217.64C60.88,218.25 60.87,218.86 60.50,219.28C60.13,219.70 59.39,219.85 58.84,220.15C58.28,220.44 57.88,220.89 57.17,221.06C56.46,221.24 55.44,221.25 54.60,221.20C53.76,221.16 52.89,220.95 52.15,220.81C51.41,220.66 50.68,220.64 50.17,220.35C49.65,220.06 49.42,219.50 49.06,219.06C48.69,218.62 48.16,218.27 47.98,217.70C47.79,217.13 47.90,216.32 47.94,215.64C47.98,214.96 48.06,214.24 48.20,213.65C48.35,213.06 48.53,212.56 48.83,212.08C49.14,211.60 49.48,211.05 50.03,210.78C50.58,210.50 51.37,210.54 52.13,210.44C52.90,210.34 53.76,210.20 54.60,210.16C55.44,210.11 56.42,210.07 57.19,210.17C57.97,210.26 58.68,210.41 59.23,210.72C59.77,211.03 60.13,211.55 60.46,212.02C60.79,212.50 61.04,212.98 61.20,213.59C61.36,214.19 61.46,214.96 61.44,215.64Z" fill="none" stroke="#fff" stroke-width="0.85"/>
<path d="M59.39,215.34C59.37,215.81 59.21,216.31 59.11,216.74C59.00,217.16 58.99,217.59 58.73,217.89C58.47,218.18 57.96,218.28 57.57,218.49C57.18,218.70 56.89,219.01 56.40,219.13C55.91,219.26 55.19,219.26 54.60,219.23C54.01,219.20 53.40,219.05 52.89,218.95C52.37,218.85 51.86,218.84 51.50,218.63C51.14,218.43 50.98,218.04 50.72,217.73C50.46,217.42 50.09,217.18 49.96,216.78C49.83,216.38 49.91,215.81 49.94,215.34C49.96,214.86 50.02,214.36 50.12,213.94C50.23,213.53 50.35,213.18 50.56,212.84C50.78,212.51 51.01,212.12 51.40,211.93C51.78,211.74 52.34,211.77 52.87,211.70C53.41,211.62 54.01,211.53 54.60,211.50C55.19,211.47 55.88,211.44 56.42,211.50C56.96,211.57 57.46,211.68 57.84,211.89C58.22,212.11 58.47,212.47 58.70,212.80C58.93,213.14 59.11,213.48 59.22,213.90C59.33,214.32 59.41,214.86 59.39,215.34Z" fill="#fff" stroke="none" stroke-width="0"/>
<path d="M58.30,214.74C58.29,215.01 58.18,215.29 58.10,215.54C58.02,215.78 58.01,216.03 57.83,216.19C57.65,216.36 57.28,216.42 57.00,216.54C56.72,216.66 56.52,216.84 56.17,216.91C55.81,216.98 55.30,216.98 54.88,216.96C54.46,216.94 54.02,216.86 53.66,216.80C53.29,216.75 52.92,216.74 52.66,216.62C52.41,216.50 52.29,216.28 52.11,216.10C51.93,215.93 51.66,215.79 51.57,215.56C51.47,215.33 51.53,215.01 51.55,214.74C51.57,214.47 51.61,214.18 51.68,213.94C51.76,213.70 51.84,213.50 52.00,213.31C52.15,213.12 52.32,212.90 52.59,212.79C52.87,212.68 53.27,212.70 53.65,212.66C54.03,212.61 54.46,212.56 54.88,212.54C55.30,212.52 55.79,212.51 56.18,212.55C56.56,212.58 56.92,212.64 57.19,212.77C57.46,212.89 57.64,213.10 57.81,213.29C57.97,213.48 58.10,213.67 58.18,213.91C58.26,214.16 58.31,214.47 58.30,214.74Z" fill="#000" stroke="none" stroke-width="0"/>
<path d="M68.6,208 C70.0,214 69.6,220 67.8,226" fill="none" stroke="#fff" stroke-width="0.4"/>
<path d="M70.1,208 C71.5,214 71.1,220 69.3,226" fill="none" stroke="#fff" stroke-width="0.4"/>
<path d="M72.00,224.60C72.40,224.60 72.97,226.20 73.20,227.00C73.43,227.80 73.60,228.90 73.40,229.40C73.20,229.90 72.47,230.00 72.00,230.00C71.53,230.00 70.80,229.90 70.60,229.40C70.40,228.90 70.57,227.80 70.80,227.00C71.03,226.20 71.60,224.60 72.00,224.60Z" fill="#fff" stroke="none" stroke-width="0"/>
<path d="M82.40,213.00C82.40,214.56 82.33,216.37 82.18,217.67C82.04,218.97 81.82,219.95 81.55,220.79C81.27,221.64 80.95,222.30 80.53,222.74C80.10,223.17 79.51,223.40 79.00,223.40C78.49,223.40 77.90,223.17 77.47,222.74C77.05,222.30 76.73,221.64 76.45,220.79C76.18,219.95 75.96,218.97 75.82,217.67C75.67,216.37 75.60,214.56 75.60,213.00C75.60,211.44 75.67,209.63 75.82,208.33C75.96,207.03 76.18,206.05 76.45,205.21C76.73,204.36 77.05,203.70 77.47,203.26C77.90,202.83 78.49,202.60 79.00,202.60C79.51,202.60 80.10,202.83 80.53,203.26C80.95,203.70 81.27,204.36 81.55,205.21C81.82,206.05 82.04,207.03 82.18,208.33C82.33,209.63 82.40,211.44 82.40,213.00Z" fill="none" stroke="#fff" stroke-width="0.5"/>
<path d="M81.11,212.84C81.11,213.77 81.06,214.86 80.97,215.64C80.89,216.42 80.75,217.01 80.58,217.51C80.41,218.02 80.21,218.42 79.95,218.68C79.68,218.94 79.32,219.08 79.00,219.08C78.68,219.08 78.32,218.94 78.05,218.68C77.79,218.42 77.59,218.02 77.42,217.51C77.25,217.01 77.11,216.42 77.03,215.64C76.94,214.86 76.89,213.77 76.89,212.84C76.89,211.91 76.94,210.82 77.03,210.04C77.11,209.26 77.25,208.67 77.42,208.17C77.59,207.66 77.79,207.26 78.05,207.00C78.32,206.74 78.68,206.60 79.00,206.60C79.32,206.60 79.68,206.74 79.95,207.00C80.21,207.26 80.41,207.66 80.58,208.17C80.75,208.67 80.89,209.26 80.97,210.04C81.06,210.82 81.11,211.91 81.11,212.84Z" fill="#8a8a8a" stroke="#fff" stroke-width="0.55"/>
<path d="M79.75,212.72C79.75,213.19 79.73,213.73 79.70,214.12C79.67,214.51 79.62,214.80 79.56,215.06C79.50,215.31 79.43,215.51 79.34,215.64C79.24,215.77 79.11,215.84 79.00,215.84C78.89,215.84 78.76,215.77 78.66,215.64C78.57,215.51 78.50,215.31 78.44,215.06C78.38,214.80 78.33,214.51 78.30,214.12C78.27,213.73 78.25,213.19 78.25,212.72C78.25,212.25 78.27,211.71 78.30,211.32C78.33,210.93 78.38,210.64 78.44,210.38C78.50,210.13 78.57,209.93 78.66,209.80C78.76,209.67 78.89,209.60 79.00,209.60C79.11,209.60 79.24,209.67 79.34,209.80C79.43,209.93 79.50,210.13 79.56,210.38C79.62,210.64 79.67,210.93 79.70,211.32C79.73,211.71 79.75,212.25 79.75,212.72Z" fill="#333" stroke="none" stroke-width="0"/>
<path d="M83.91,190.09C84.02,190.72 84.04,191.42 83.92,192.02C83.80,192.63 83.59,193.22 83.18,193.72C82.78,194.22 82.17,194.66 81.49,195.03C80.81,195.40 79.93,195.72 79.11,195.94C78.29,196.16 77.35,196.34 76.56,196.36C75.77,196.38 74.99,196.32 74.36,196.08C73.73,195.85 73.20,195.44 72.79,194.95C72.38,194.46 72.02,193.79 71.90,193.16C71.77,192.53 71.89,191.79 72.04,191.17C72.18,190.56 72.37,189.97 72.77,189.46C73.18,188.96 73.80,188.51 74.48,188.14C75.17,187.77 76.06,187.43 76.88,187.23C77.71,187.03 78.65,186.91 79.42,186.93C80.18,186.94 80.85,187.09 81.49,187.30C82.13,187.52 82.84,187.76 83.25,188.23C83.65,188.69 83.80,189.46 83.91,190.09Z" fill="none" stroke="#fff" stroke-width="0.5"/>
<path d="M82.43,190.48C82.51,190.95 82.52,191.47 82.43,191.91C82.34,192.36 82.19,192.80 81.89,193.17C81.59,193.54 81.14,193.87 80.64,194.14C80.14,194.42 79.48,194.65 78.87,194.81C78.26,194.98 77.57,195.10 76.99,195.12C76.40,195.14 75.82,195.09 75.36,194.92C74.89,194.74 74.50,194.44 74.20,194.08C73.90,193.72 73.63,193.22 73.54,192.75C73.44,192.29 73.53,191.74 73.64,191.28C73.75,190.83 73.88,190.39 74.18,190.02C74.49,189.64 74.94,189.31 75.45,189.04C75.95,188.76 76.62,188.52 77.23,188.37C77.84,188.22 78.53,188.13 79.10,188.14C79.67,188.15 80.16,188.26 80.64,188.42C81.11,188.58 81.64,188.76 81.93,189.10C82.23,189.45 82.34,190.01 82.43,190.48Z" fill="none" stroke="#fff" stroke-width="0.5"/>
<path d="M81.06,190.85C81.11,191.16 81.12,191.51 81.06,191.81C81.00,192.11 80.89,192.41 80.69,192.66C80.49,192.91 80.19,193.13 79.85,193.32C79.51,193.50 79.07,193.66 78.65,193.77C78.24,193.88 77.78,193.97 77.38,193.98C76.98,193.99 76.59,193.96 76.28,193.84C75.96,193.72 75.70,193.52 75.50,193.27C75.29,193.03 75.11,192.69 75.05,192.38C74.99,192.06 75.04,191.69 75.12,191.39C75.19,191.08 75.28,190.78 75.49,190.53C75.69,190.28 76.00,190.06 76.34,189.87C76.68,189.68 77.13,189.52 77.54,189.42C77.95,189.31 78.42,189.26 78.81,189.26C79.19,189.27 79.53,189.34 79.85,189.45C80.17,189.56 80.52,189.68 80.72,189.91C80.92,190.15 81.00,190.53 81.06,190.85Z" fill="none" stroke="#fff" stroke-width="0.5"/>
<ellipse cx="78.6" cy="191.4" rx="2.0" ry="1.6" fill="#000" stroke="none" stroke-width="0.5"/>
</g>
<line x1="73.2" y1="163.4" x2="73.2" y2="230.3" stroke="#222" stroke-width="0.6"/>
<line x1="42.4" y1="203.4" x2="110.69999999999999" y2="203.4" stroke="#222" stroke-width="0.6"/>
<rect x="42.4" y="163.4" width="68.3" height="66.9" fill="none" stroke="#222" stroke-width="0.8"/>
<text x="43.4" y="168.1" font-size="4.0" text-anchor="start" fill="#000" class="xs">1</text>
<text x="109.89999999999999" y="168.1" font-size="4.0" text-anchor="end" fill="#000" class="xs">13.7</text>
<rect x="43.199999999999996" y="225.5" width="8.0" height="4.0" fill="#fff" stroke="none" stroke-width="0"/>
<text x="43.4" y="229.10000000000002" font-size="4.0" text-anchor="start" fill="#000" class="xs">73.8</text>
<text x="109.89999999999999" y="229.10000000000002" font-size="4.0" text-anchor="end" fill="#000" class="xs">11.5</text>
<line x1="40.8" y1="169.0" x2="42.4" y2="169.0" stroke="#333" stroke-width="0.5"/>
<text x="35.6" y="170.1" font-size="3.1" fill="#222" class="ns">10<tspan dy="-1.2" font-size="2.3">5</tspan></text>
<line x1="40.8" y1="185.0" x2="42.4" y2="185.0" stroke="#333" stroke-width="0.5"/>
<text x="35.6" y="186.1" font-size="3.1" fill="#222" class="ns">10<tspan dy="-1.2" font-size="2.3">4</tspan></text>
<line x1="40.8" y1="200.60000000000002" x2="42.4" y2="200.60000000000002" stroke="#333" stroke-width="0.5"/>
<text x="35.6" y="201.7" font-size="3.1" fill="#222" class="ns">10<tspan dy="-1.2" font-size="2.3">3</tspan></text>
<line x1="40.8" y1="216.7" x2="42.4" y2="216.7" stroke="#333" stroke-width="0.5"/>
<text x="35.6" y="217.8" font-size="3.1" fill="#222" class="ns">10<tspan dy="-1.2" font-size="2.3">2</tspan></text>
<line x1="40.8" y1="224.2" x2="42.4" y2="224.2" stroke="#333" stroke-width="0.5"/>
<text x="38.199999999999996" y="225.2" font-size="3.1" text-anchor="start" fill="#222" class="ns">0</text>
<line x1="56.0" y1="230.3" x2="56.0" y2="231.9" stroke="#333" stroke-width="0.5"/>
<text x="54.0" y="237.5" font-size="3.1" fill="#222" class="ns">10<tspan dy="-1.2" font-size="2.3">2</tspan></text>
<line x1="73.0" y1="230.3" x2="73.0" y2="231.9" stroke="#333" stroke-width="0.5"/>
<text x="71.0" y="237.5" font-size="3.1" fill="#222" class="ns">10<tspan dy="-1.2" font-size="2.3">3</tspan></text>
<line x1="89.19999999999999" y1="230.3" x2="89.19999999999999" y2="231.9" stroke="#333" stroke-width="0.5"/>
<text x="87.2" y="237.5" font-size="3.1" fill="#222" class="ns">10<tspan dy="-1.2" font-size="2.3">4</tspan></text>
<line x1="104.4" y1="230.3" x2="104.4" y2="231.9" stroke="#333" stroke-width="0.5"/>
<text x="102.4" y="237.5" font-size="3.1" fill="#222" class="ns">10<tspan dy="-1.2" font-size="2.3">5</tspan></text>
<line x1="49.199999999999996" y1="230.3" x2="49.199999999999996" y2="231.9" stroke="#333" stroke-width="0.5"/>
<text x="48.4" y="237.5" font-size="3.1" text-anchor="start" fill="#222" class="ns">0</text>
<text x="26.7" y="191.2" font-size="6.9" text-anchor="middle" font-weight="bold" fill="#111">7</text>
<text x="26.7" y="197.4" font-size="6.9" text-anchor="middle" font-weight="bold" fill="#111">A</text>
<text x="26.7" y="203.6" font-size="6.9" text-anchor="middle" font-weight="bold" fill="#111">A</text>
<text x="26.7" y="209.8" font-size="6.9" text-anchor="middle" font-weight="bold" fill="#111">D</text>
<text x="72.7" y="249.4" font-size="7.6" text-anchor="middle" fill="#000" class="sm">Annexin V</text>
<text x="158.6" y="152.4" font-size="10.4" text-anchor="start" fill="#111">Wortmannin + PTL 2.5µM</text>
<clipPath id="c4"><rect x="165.4" y="163.4" width="68.3" height="66.9"/></clipPath>
<g clip-path="url(#c4)">
<path d="M159.00,211.00C160.00,207.80 163.33,210.90 165.00,210.80C166.67,210.70 167.83,210.67 169.00,210.40C170.17,210.13 170.83,209.53 172.00,209.20C173.17,208.87 174.67,208.40 176.00,208.40C177.33,208.40 178.83,209.13 180.00,209.20C181.17,209.27 182.00,208.73 183.00,208.80C184.00,208.87 185.13,209.07 186.00,209.60C186.87,210.13 188.03,211.03 188.20,212.00C188.37,212.97 187.43,214.40 187.00,215.40C186.57,216.40 185.87,217.07 185.60,218.00C185.33,218.93 185.67,220.00 185.40,221.00C185.13,222.00 184.63,223.17 184.00,224.00C183.37,224.83 182.27,225.30 181.60,226.00C180.93,226.70 180.93,227.80 180.00,228.20C179.07,228.60 177.33,228.20 176.00,228.40C174.67,228.60 173.67,229.20 172.00,229.40C170.33,229.60 168.17,229.50 166.00,229.60C163.83,229.70 160.17,233.10 159.00,230.00C157.83,226.90 158.00,214.20 159.00,211.00Z" fill="#6a6a6a" stroke="#000" stroke-width="1.7"/>
<path d="M160.26,212.18C161.17,209.42 164.20,212.09 165.72,212.00C167.24,211.92 168.30,211.89 169.36,211.66C170.42,211.43 171.03,210.91 172.09,210.63C173.15,210.34 174.52,209.94 175.73,209.94C176.94,209.94 178.31,210.57 179.37,210.63C180.43,210.69 181.19,210.23 182.10,210.28C183.01,210.34 184.04,210.51 184.83,210.97C185.62,211.43 186.68,212.20 186.83,213.04C186.98,213.87 186.13,215.10 185.74,215.96C185.35,216.82 184.71,217.39 184.47,218.20C184.22,219.00 184.53,219.92 184.28,220.78C184.04,221.64 183.59,222.64 183.01,223.36C182.43,224.07 181.43,224.47 180.83,225.08C180.22,225.68 180.22,226.62 179.37,226.97C178.52,227.31 176.94,226.97 175.73,227.14C174.52,227.31 173.61,227.83 172.09,228.00C170.57,228.17 168.60,228.09 166.63,228.17C164.66,228.26 161.32,231.18 160.26,228.52C159.20,225.85 159.35,214.93 160.26,212.18Z" fill="#6a6a6a" stroke="#fff" stroke-width="0.55"/>
<path d="M161.24,212.85C162.08,210.35 164.88,212.77 166.28,212.69C167.68,212.61 168.66,212.59 169.64,212.38C170.62,212.17 171.18,211.70 172.16,211.44C173.14,211.18 174.40,210.82 175.52,210.82C176.64,210.82 177.90,211.39 178.88,211.44C179.86,211.50 180.56,211.08 181.40,211.13C182.24,211.18 183.19,211.34 183.92,211.76C184.65,212.17 185.63,212.87 185.77,213.63C185.91,214.38 185.12,215.50 184.76,216.28C184.40,217.06 183.81,217.58 183.58,218.31C183.36,219.04 183.64,219.87 183.42,220.65C183.19,221.43 182.77,222.34 182.24,222.99C181.71,223.64 180.78,224.00 180.22,224.55C179.66,225.09 179.66,225.95 178.88,226.26C178.10,226.58 176.64,226.26 175.52,226.42C174.40,226.58 173.56,227.04 172.16,227.20C170.76,227.36 168.94,227.28 167.12,227.36C165.30,227.43 162.22,230.09 161.24,227.67C160.26,225.25 160.40,215.34 161.24,212.85Z" fill="#5e5e5e" stroke="none" stroke-width="0" filter="url(#b1)"/>
<ellipse cx="176" cy="217.6" rx="5.8" ry="4.4" fill="#1e1e1e" stroke="none" stroke-width="0" filter="url(#b2)"/>
<ellipse cx="168.6" cy="216.6" rx="3.2" ry="3.2" fill="#2c2c2c" stroke="none" stroke-width="0" filter="url(#b2)"/>
<ellipse cx="181" cy="223.6" rx="2.4" ry="2.0" fill="#333" stroke="none" stroke-width="0" filter="url(#b2)"/>
<ellipse cx="170" cy="224.6" rx="3" ry="2.0" fill="#9c9c9c" stroke="none" stroke-width="0" filter="url(#b2)"/>
<path d="M186.40,212.60C186.83,211.97 188.80,212.27 190.00,212.00C191.20,211.73 192.80,210.53 193.60,211.00C194.40,211.47 194.67,213.53 194.80,214.80C194.93,216.07 195.20,217.87 194.40,218.60C193.60,219.33 191.37,219.17 190.00,219.20C188.63,219.23 186.63,219.37 186.20,218.80C185.77,218.23 187.37,216.83 187.40,215.80C187.43,214.77 185.97,213.23 186.40,212.60Z" fill="#000" stroke="none" stroke-width="0"/>
<path d="M186.6,212.2 C188.6,212.6 190,213.6 191.4,215" fill="none" stroke="#fff" stroke-width="0.45"/>
<path d="M191.00,192.00C191.17,190.17 191.17,189.07 192.00,188.00C192.83,186.93 194.17,186.20 196.00,185.60C197.83,185.00 201.00,184.50 203.00,184.40C205.00,184.30 206.73,184.40 208.00,185.00C209.27,185.60 210.17,186.33 210.60,188.00C211.03,189.67 210.83,192.67 210.60,195.00C210.37,197.33 209.53,199.50 209.20,202.00C208.87,204.50 208.87,207.33 208.60,210.00C208.33,212.67 208.10,215.67 207.60,218.00C207.10,220.33 206.37,222.47 205.60,224.00C204.83,225.53 203.93,226.60 203.00,227.20C202.07,227.80 201.00,228.13 200.00,227.60C199.00,227.07 197.90,225.77 197.00,224.00C196.10,222.23 195.33,219.67 194.60,217.00C193.87,214.33 193.20,211.00 192.60,208.00C192.00,205.00 191.27,201.67 191.00,199.00C190.73,196.33 190.83,193.83 191.00,192.00Z" fill="#000" stroke="none" stroke-width="0"/>
<path d="M192.54,193.92C192.68,192.38 192.68,191.46 193.38,190.56C194.08,189.66 195.20,189.05 196.74,188.54C198.28,188.04 200.94,187.62 202.62,187.54C204.30,187.45 205.75,187.54 206.82,188.04C207.88,188.54 208.64,189.16 209.00,190.56C209.36,191.96 209.20,194.48 209.00,196.44C208.80,198.40 208.10,200.22 207.82,202.32C207.54,204.42 207.54,206.80 207.32,209.04C207.10,211.28 206.90,213.80 206.48,215.76C206.06,217.72 205.44,219.51 204.80,220.80C204.16,222.09 203.40,222.98 202.62,223.49C201.83,223.99 200.94,224.27 200.10,223.82C199.26,223.38 198.33,222.28 197.58,220.80C196.82,219.32 196.18,217.16 195.56,214.92C194.94,212.68 194.38,209.88 193.88,207.36C193.38,204.84 192.76,202.04 192.54,199.80C192.31,197.56 192.40,195.46 192.54,193.92Z" fill="none" stroke="#fff" stroke-width="0.6"/>
<path d="M194.26,196.76C194.37,195.55 194.37,194.82 194.92,194.12C195.47,193.42 196.35,192.93 197.56,192.54C198.77,192.14 200.86,191.81 202.18,191.74C203.50,191.68 204.65,191.74 205.48,192.14C206.32,192.54 206.91,193.02 207.20,194.12C207.49,195.22 207.35,197.20 207.20,198.74C207.05,200.28 206.50,201.71 206.28,203.36C206.06,205.01 206.06,206.88 205.88,208.64C205.70,210.40 205.55,212.38 205.22,213.92C204.89,215.46 204.41,216.87 203.90,217.88C203.39,218.89 202.80,219.60 202.18,219.99C201.57,220.39 200.86,220.61 200.20,220.26C199.54,219.90 198.82,219.05 198.22,217.88C197.63,216.71 197.12,215.02 196.64,213.26C196.16,211.50 195.72,209.30 195.32,207.32C194.92,205.34 194.44,203.14 194.26,201.38C194.09,199.62 194.15,197.97 194.26,196.76Z" fill="none" stroke="#fff" stroke-width="0.45"/>
<ellipse cx="200.6" cy="192.2" rx="5.6" ry="4.4799999999999995" fill="none" stroke="#fff" stroke-width="0.55"/>
<ellipse cx="200.6" cy="192.2" rx="3.9" ry="3.12" fill="none" stroke="#fff" stroke-width="0.55"/>
<ellipse cx="200.6" cy="192.2" rx="2.1" ry="1.6800000000000002" fill="none" stroke="#fff" stroke-width="0.55"/>
<path d="M198.0,196.6 C198.4,199 198.8,201 198.6,203.4 M203.4,196.6 C203,199 202.6,201 202.8,203.4" fill="none" stroke="#fff" stroke-width="0.5"/>
<path d="M197.60,204.40C197.93,203.57 198.50,203.10 199.40,203.00C200.30,202.90 202.13,202.97 203.00,203.80C203.87,204.63 204.50,206.47 204.60,208.00C204.70,209.53 204.27,211.73 203.60,213.00C202.93,214.27 201.47,215.60 200.60,215.60C199.73,215.60 198.93,214.27 198.40,213.00C197.87,211.73 197.53,209.43 197.40,208.00C197.27,206.57 197.27,205.23 197.60,204.40Z" fill="#000" stroke="#fff" stroke-width="0.6"/>
<ellipse cx="195.6" cy="229.8" rx="2.6" ry="1.5" fill="#000" stroke="none" stroke-width="0.5"/>
<ellipse cx="202" cy="229.4" rx="2.2" ry="1.9" fill="#000" stroke="none" stroke-width="0.5"/>
</g>
<line x1="196.20000000000002" y1="163.4" x2="196.20000000000002" y2="230.3" stroke="#222" stroke-width="0.6"/>
<line x1="165.4" y1="203.4" x2="233.7" y2="203.4" stroke="#222" stroke-width="0.6"/>
<rect x="165.4" y="163.4" width="68.3" height="66.9" fill="none" stroke="#222" stroke-width="0.8"/>
<text x="166.4" y="168.1" font-size="4.0" text-anchor="start" fill="#000" class="xs">4.57</text>
<text x="232.89999999999998" y="168.1" font-size="4.0" text-anchor="end" fill="#000" class="xs">64.3</text>
<rect x="166.20000000000002" y="225.5" width="8.0" height="4.0" fill="#fff" stroke="none" stroke-width="0"/>
<text x="166.4" y="229.10000000000002" font-size="4.0" text-anchor="start" fill="#000" class="xs">13.3</text>
<text x="232.89999999999998" y="229.10000000000002" font-size="4.0" text-anchor="end" fill="#000" class="xs">17.8</text>
<line x1="163.8" y1="169.0" x2="165.4" y2="169.0" stroke="#333" stroke-width="0.5"/>
<text x="158.6" y="170.1" font-size="3.1" fill="#222" class="ns">10<tspan dy="-1.2" font-size="2.3">5</tspan></text>
<line x1="163.8" y1="185.0" x2="165.4" y2="185.0" stroke="#333" stroke-width="0.5"/>
<text x="158.6" y="186.1" font-size="3.1" fill="#222" class="ns">10<tspan dy="-1.2" font-size="2.3">4</tspan></text>
<line x1="163.8" y1="200.60000000000002" x2="165.4" y2="200.60000000000002" stroke="#333" stroke-width="0.5"/>
<text x="158.6" y="201.7" font-size="3.1" fill="#222" class="ns">10<tspan dy="-1.2" font-size="2.3">3</tspan></text>
<line x1="163.8" y1="216.7" x2="165.4" y2="216.7" stroke="#333" stroke-width="0.5"/>
<text x="158.6" y="217.8" font-size="3.1" fill="#222" class="ns">10<tspan dy="-1.2" font-size="2.3">2</tspan></text>
<line x1="163.8" y1="224.2" x2="165.4" y2="224.2" stroke="#333" stroke-width="0.5"/>
<text x="161.20000000000002" y="225.2" font-size="3.1" text-anchor="start" fill="#222" class="ns">0</text>
<line x1="179.0" y1="230.3" x2="179.0" y2="231.9" stroke="#333" stroke-width="0.5"/>
<text x="177.0" y="237.5" font-size="3.1" fill="#222" class="ns">10<tspan dy="-1.2" font-size="2.3">2</tspan></text>
<line x1="196.0" y1="230.3" x2="196.0" y2="231.9" stroke="#333" stroke-width="0.5"/>
<text x="194.0" y="237.5" font-size="3.1" fill="#222" class="ns">10<tspan dy="-1.2" font-size="2.3">3</tspan></text>
<line x1="212.2" y1="230.3" x2="212.2" y2="231.9" stroke="#333" stroke-width="0.5"/>
<text x="210.2" y="237.5" font-size="3.1" fill="#222" class="ns">10<tspan dy="-1.2" font-size="2.3">4</tspan></text>
<line x1="227.4" y1="230.3" x2="227.4" y2="231.9" stroke="#333" stroke-width="0.5"/>
<text x="225.4" y="237.5" font-size="3.1" fill="#222" class="ns">10<tspan dy="-1.2" font-size="2.3">5</tspan></text>
<line x1="172.20000000000002" y1="230.3" x2="172.20000000000002" y2="231.9" stroke="#333" stroke-width="0.5"/>
<text x="171.4" y="237.5" font-size="3.1" text-anchor="start" fill="#222" class="ns">0</text>
<text x="153" y="191.2" font-size="6.9" text-anchor="middle" font-weight="bold" fill="#111">7</text>
<text x="153" y="197.4" font-size="6.9" text-anchor="middle" font-weight="bold" fill="#111">A</text>
<text x="153" y="203.6" font-size="6.9" text-anchor="middle" font-weight="bold" fill="#111">A</text>
<text x="153" y="209.8" font-size="6.9" text-anchor="middle" font-weight="bold" fill="#111">D</text>
<text x="199.9" y="249.4" font-size="7.6" text-anchor="middle" fill="#000" class="sm">Annexin V</text>
<text x="35.8" y="265.4" font-size="10.25" text-anchor="start" fill="#111">PTL 5µM</text>
<clipPath id="c5"><rect x="42.4" y="276.4" width="68.3" height="66.9"/></clipPath>
<g clip-path="url(#c5)">
<path d="M36.00,323.00C37.00,317.90 40.33,322.73 42.00,322.40C43.67,322.07 44.33,321.47 46.00,321.00C47.67,320.53 49.67,319.90 52.00,319.60C54.33,319.30 57.83,319.13 60.00,319.20C62.17,319.27 63.67,319.63 65.00,320.00C66.33,320.37 67.10,321.57 68.00,321.40C68.90,321.23 69.90,320.23 70.40,319.00C70.90,317.77 71.07,315.83 71.00,314.00C70.93,312.17 70.23,309.83 70.00,308.00C69.77,306.17 69.43,304.33 69.60,303.00C69.77,301.67 70.10,300.73 71.00,300.00C71.90,299.27 73.50,298.93 75.00,298.60C76.50,298.27 78.50,298.00 80.00,298.00C81.50,298.00 83.00,297.93 84.00,298.60C85.00,299.27 85.73,300.60 86.00,302.00C86.27,303.40 85.93,305.33 85.60,307.00C85.27,308.67 84.33,310.33 84.00,312.00C83.67,313.67 83.60,315.17 83.60,317.00C83.60,318.83 84.00,320.83 84.00,323.00C84.00,325.17 84.10,327.67 83.60,330.00C83.10,332.33 81.70,334.67 81.00,337.00C80.30,339.33 79.73,341.33 79.40,344.00C79.07,346.67 86.23,351.50 79.00,353.00C71.77,354.50 43.17,358.00 36.00,353.00C28.83,348.00 35.00,328.10 36.00,323.00Z" fill="#000" stroke="none" stroke-width="0"/>
<path d="M37.28,323.64C38.20,319.87 41.27,323.39 42.80,323.09C44.33,322.78 44.95,322.23 46.48,321.80C48.01,321.37 49.85,320.79 52.00,320.51C54.15,320.24 57.37,320.08 59.36,320.14C61.35,320.21 62.79,320.14 63.96,320.88C65.13,321.62 66.11,323.03 66.35,324.56C66.60,326.09 65.98,328.39 65.43,330.08C64.88,331.77 64.05,333.30 63.04,334.68C62.03,336.06 60.28,336.52 59.36,338.36C58.44,340.20 61.20,344.49 57.52,345.72C53.84,346.95 40.65,349.40 37.28,345.72C33.91,342.04 36.36,327.41 37.28,323.64Z" fill="none" stroke="#fff" stroke-width="0.55"/>
<path d="M38.88,324.44C39.70,321.08 42.43,324.22 43.80,323.95C45.17,323.67 45.71,323.18 47.08,322.80C48.45,322.42 50.09,321.90 52.00,321.65C53.91,321.41 56.78,321.27 58.56,321.32C60.34,321.38 61.62,321.32 62.66,321.98C63.70,322.64 64.57,323.89 64.79,325.26C65.01,326.63 64.46,328.68 63.97,330.18C63.48,331.68 62.74,333.05 61.84,334.28C60.94,335.51 59.38,335.92 58.56,337.56C57.74,339.20 60.20,343.03 56.92,344.12C53.64,345.21 41.89,347.40 38.88,344.12C35.87,340.84 38.06,327.80 38.88,324.44Z" fill="none" stroke="#fff" stroke-width="0.55"/>
<path d="M63.89,328.60C63.93,329.77 63.66,331.16 63.25,332.14C62.83,333.11 62.09,333.73 61.41,334.47C60.73,335.21 60.19,336.17 59.14,336.57C58.10,336.98 56.66,336.77 55.13,336.88C53.60,336.99 51.48,337.27 49.97,337.22C48.45,337.18 47.06,337.06 46.04,336.59C45.02,336.13 44.54,335.17 43.83,334.44C43.13,333.70 42.24,333.16 41.80,332.19C41.35,331.21 41.09,329.77 41.17,328.60C41.24,327.43 41.83,326.16 42.24,325.16C42.65,324.16 42.97,323.36 43.62,322.62C44.27,321.88 45.08,321.16 46.14,320.73C47.20,320.29 48.45,320.16 49.98,320.01C51.50,319.86 53.81,319.65 55.28,319.82C56.75,320.00 57.75,320.59 58.78,321.07C59.82,321.54 60.78,322.01 61.48,322.68C62.19,323.36 62.62,324.15 63.02,325.14C63.42,326.13 63.86,327.43 63.89,328.60Z" fill="none" stroke="#fff" stroke-width="0.8"/>
<path d="M62.17,328.60C62.20,329.59 61.97,330.77 61.62,331.60C61.27,332.42 60.65,332.95 60.07,333.57C59.49,334.20 59.03,335.02 58.15,335.36C57.26,335.70 56.04,335.53 54.74,335.62C53.45,335.71 51.65,335.95 50.37,335.91C49.08,335.87 47.91,335.77 47.04,335.37C46.17,334.98 45.77,334.17 45.17,333.55C44.57,332.93 43.82,332.46 43.45,331.64C43.07,330.81 42.85,329.59 42.91,328.60C42.97,327.61 43.47,326.53 43.82,325.68C44.17,324.84 44.44,324.16 44.99,323.53C45.54,322.90 46.23,322.30 47.12,321.93C48.02,321.56 49.09,321.45 50.38,321.32C51.67,321.19 53.63,321.01 54.87,321.16C56.12,321.31 56.96,321.81 57.84,322.22C58.72,322.62 59.53,323.01 60.13,323.59C60.73,324.16 61.09,324.83 61.43,325.67C61.77,326.50 62.14,327.61 62.17,328.60Z" fill="none" stroke="#fff" stroke-width="0.8"/>
<path d="M60.26,328.60C60.28,329.39 60.10,330.33 59.82,331.00C59.54,331.66 59.04,332.08 58.57,332.58C58.11,333.08 57.75,333.73 57.04,334.01C56.33,334.28 55.35,334.14 54.31,334.21C53.28,334.29 51.84,334.48 50.81,334.45C49.79,334.41 48.85,334.33 48.15,334.02C47.46,333.70 47.14,333.06 46.66,332.56C46.18,332.06 45.58,331.69 45.28,331.03C44.98,330.37 44.80,329.39 44.85,328.60C44.90,327.81 45.30,326.94 45.58,326.27C45.85,325.59 46.07,325.04 46.51,324.54C46.95,324.04 47.50,323.56 48.22,323.26C48.94,322.97 49.79,322.88 50.82,322.78C51.85,322.68 53.42,322.53 54.42,322.65C55.41,322.77 56.09,323.17 56.79,323.49C57.49,323.82 58.14,324.13 58.62,324.59C59.10,325.05 59.39,325.59 59.67,326.25C59.94,326.92 60.23,327.81 60.26,328.60Z" fill="none" stroke="#fff" stroke-width="0.8"/>
<path d="M58.34,328.60C58.36,329.19 58.22,329.90 58.01,330.40C57.80,330.89 57.43,331.21 57.08,331.58C56.73,331.96 56.46,332.45 55.93,332.65C55.40,332.86 54.66,332.76 53.89,332.81C53.11,332.87 52.03,333.01 51.26,332.98C50.49,332.96 49.78,332.90 49.26,332.66C48.74,332.43 48.50,331.94 48.14,331.57C47.78,331.20 47.33,330.92 47.11,330.42C46.88,329.93 46.75,329.20 46.79,328.60C46.82,328.00 47.12,327.36 47.33,326.85C47.54,326.34 47.70,325.93 48.03,325.56C48.36,325.18 48.78,324.82 49.31,324.60C49.85,324.38 50.49,324.31 51.27,324.23C52.04,324.16 53.22,324.05 53.96,324.14C54.71,324.23 55.22,324.53 55.74,324.77C56.27,325.01 56.76,325.25 57.12,325.59C57.48,325.94 57.69,326.34 57.90,326.84C58.10,327.34 58.32,328.01 58.34,328.60Z" fill="#fff" stroke="none" stroke-width="0"/>
<path d="M57.01,328.40C57.13,328.82 56.87,329.51 56.43,329.82C56.00,330.13 55.01,330.15 54.40,330.28C53.80,330.41 53.41,330.50 52.80,330.59C52.19,330.67 51.34,330.92 50.76,330.78C50.19,330.64 49.68,330.14 49.37,329.74C49.06,329.34 48.84,328.82 48.91,328.40C48.98,327.98 49.45,327.59 49.78,327.22C50.11,326.85 50.39,326.40 50.89,326.17C51.39,325.93 52.17,325.82 52.80,325.82C53.43,325.82 54.22,325.94 54.70,326.18C55.17,326.43 55.29,326.91 55.68,327.28C56.06,327.65 56.88,327.98 57.01,328.40Z" fill="#000" stroke="none" stroke-width="0"/>
<path d="M62,325 C66,328 68,333 68.4,338 M64.6,322.6 C68,326 70,331 70.6,337 M66.6,322 C70,325 72,330 72.6,338 M60,337 C63,335 66,335 69,337" fill="none" stroke="#fff" stroke-width="0.45"/>
<path d="M63.00,340.00C63.57,339.57 64.93,339.37 66.00,339.40C67.07,339.43 68.97,339.73 69.40,340.20C69.83,340.67 69.33,341.80 68.60,342.20C67.87,342.60 66.00,342.63 65.00,342.60C64.00,342.57 62.93,342.43 62.60,342.00C62.27,341.57 62.43,340.43 63.00,340.00Z" fill="#fff" stroke="none" stroke-width="0"/>
<path d="M83.17,326.98C82.99,328.72 82.65,330.68 82.24,332.17C81.83,333.67 81.29,334.95 80.69,335.97C80.09,336.99 79.40,337.81 78.64,338.31C77.88,338.80 76.94,339.02 76.14,338.94C75.34,338.86 74.47,338.46 73.82,337.82C73.18,337.19 72.66,336.25 72.27,335.13C71.89,334.01 71.61,332.65 71.51,331.10C71.40,329.55 71.46,327.57 71.63,325.82C71.81,324.08 72.15,322.12 72.56,320.63C72.97,319.13 73.51,317.85 74.11,316.83C74.71,315.81 75.40,314.99 76.16,314.49C76.92,314.00 77.86,313.78 78.66,313.86C79.46,313.94 80.33,314.34 80.98,314.98C81.62,315.61 82.14,316.55 82.53,317.67C82.91,318.79 83.19,320.15 83.29,321.70C83.40,323.25 83.34,325.23 83.17,326.98Z" fill="none" stroke="#fff" stroke-width="0.55"/>
<path d="M81.98,326.86C81.84,328.24 81.57,329.79 81.24,330.98C80.91,332.17 80.49,333.18 80.01,334.00C79.53,334.81 78.98,335.46 78.38,335.85C77.78,336.24 77.04,336.41 76.40,336.35C75.76,336.29 75.07,335.97 74.56,335.47C74.05,334.96 73.64,334.22 73.33,333.33C73.03,332.44 72.81,331.36 72.72,330.13C72.64,328.90 72.68,327.33 72.82,325.94C72.96,324.56 73.23,323.01 73.56,321.82C73.89,320.63 74.31,319.62 74.79,318.80C75.27,317.99 75.82,317.34 76.42,316.95C77.02,316.56 77.76,316.39 78.40,316.45C79.04,316.51 79.73,316.83 80.24,317.33C80.75,317.84 81.16,318.58 81.47,319.47C81.77,320.36 81.99,321.44 82.08,322.67C82.16,323.90 82.12,325.47 81.98,326.86Z" fill="none" stroke="#fff" stroke-width="0.55"/>
<path d="M80.70,326.73C80.60,327.73 80.40,328.84 80.17,329.70C79.93,330.56 79.62,331.28 79.28,331.87C78.94,332.45 78.54,332.92 78.11,333.20C77.67,333.49 77.14,333.61 76.68,333.56C76.22,333.52 75.72,333.29 75.35,332.93C74.99,332.57 74.69,332.03 74.47,331.39C74.25,330.75 74.09,329.97 74.03,329.08C73.97,328.20 74.00,327.07 74.10,326.07C74.20,325.07 74.40,323.96 74.63,323.10C74.87,322.24 75.18,321.52 75.52,320.93C75.86,320.35 76.26,319.88 76.69,319.60C77.13,319.31 77.66,319.19 78.12,319.24C78.58,319.28 79.08,319.51 79.45,319.87C79.81,320.23 80.11,320.77 80.33,321.41C80.55,322.05 80.71,322.83 80.77,323.72C80.83,324.60 80.80,325.73 80.70,326.73Z" fill="none" stroke="#fff" stroke-width="0.55"/>
<path d="M79.51,326.61C79.44,327.25 79.32,327.96 79.17,328.51C79.02,329.06 78.82,329.52 78.60,329.89C78.38,330.27 78.13,330.57 77.85,330.75C77.58,330.93 77.23,331.01 76.94,330.98C76.65,330.95 76.33,330.80 76.09,330.57C75.86,330.34 75.67,330.00 75.53,329.59C75.39,329.18 75.29,328.68 75.25,328.11C75.21,327.55 75.23,326.83 75.29,326.19C75.36,325.55 75.48,324.84 75.63,324.29C75.78,323.74 75.98,323.28 76.20,322.91C76.42,322.53 76.67,322.23 76.95,322.05C77.22,321.87 77.57,321.79 77.86,321.82C78.15,321.85 78.47,322.00 78.71,322.23C78.94,322.46 79.13,322.80 79.27,323.21C79.41,323.62 79.51,324.12 79.55,324.69C79.59,325.25 79.57,325.97 79.51,326.61Z" fill="none" stroke="#fff" stroke-width="0.55"/>
<path d="M84.60,305.00C84.60,305.78 84.45,306.68 84.16,307.34C83.87,308.01 83.43,308.55 82.88,308.99C82.33,309.44 81.68,309.81 80.86,310.04C80.05,310.27 78.95,310.40 78.00,310.40C77.05,310.40 75.95,310.27 75.14,310.04C74.32,309.81 73.67,309.44 73.12,308.99C72.57,308.55 72.13,308.01 71.84,307.34C71.55,306.68 71.40,305.78 71.40,305.00C71.40,304.22 71.55,303.32 71.84,302.66C72.13,301.99 72.57,301.45 73.12,301.01C73.67,300.56 74.32,300.19 75.14,299.96C75.95,299.73 77.05,299.60 78.00,299.60C78.95,299.60 80.05,299.73 80.86,299.96C81.68,300.19 82.33,300.56 82.88,301.01C83.43,301.45 83.87,301.99 84.16,302.66C84.45,303.32 84.60,304.22 84.60,305.00Z" fill="none" stroke="#fff" stroke-width="0.45"/>
<path d="M83.54,305.00C83.54,305.66 83.42,306.41 83.18,306.97C82.93,307.53 82.56,307.98 82.10,308.36C81.64,308.73 81.09,309.04 80.40,309.23C79.72,309.43 78.80,309.54 78.00,309.54C77.20,309.54 76.28,309.43 75.60,309.23C74.91,309.04 74.36,308.73 73.90,308.36C73.44,307.98 73.07,307.53 72.82,306.97C72.58,306.41 72.46,305.66 72.46,305.00C72.46,304.34 72.58,303.59 72.82,303.03C73.07,302.47 73.44,302.02 73.90,301.64C74.36,301.27 74.91,300.96 75.60,300.77C76.28,300.57 77.20,300.46 78.00,300.46C78.80,300.46 79.72,300.57 80.40,300.77C81.09,300.96 81.64,301.27 82.10,301.64C82.56,302.02 82.93,302.47 83.18,303.03C83.42,303.59 83.54,304.34 83.54,305.00Z" fill="none" stroke="#fff" stroke-width="0.45"/>
<ellipse cx="78" cy="305" rx="4.1" ry="2.8" fill="#000" stroke="#fff" stroke-width="1.1"/>
<path d="M72.4,312 C75,314 80,314 83,311.6 M72.6,314.6 C75,316 80,316 83,314.4" fill="none" stroke="#fff" stroke-width="0.45"/>
</g>
<line x1="73.2" y1="276.4" x2="73.2" y2="343.29999999999995" stroke="#222" stroke-width="0.6"/>
<line x1="42.4" y1="316.4" x2="110.69999999999999" y2="316.4" stroke="#222" stroke-width="0.6"/>
<rect x="42.4" y="276.4" width="68.3" height="66.9" fill="none" stroke="#222" stroke-width="0.8"/>
<text x="43.4" y="281.09999999999997" font-size="4.0" text-anchor="start" fill="#000" class="xs">2.22</text>
<text x="109.89999999999999" y="281.09999999999997" font-size="4.0" text-anchor="end" fill="#000" class="xs">36</text>
<rect x="43.199999999999996" y="338.49999999999994" width="8.0" height="4.0" fill="#fff" stroke="none" stroke-width="0"/>
<text x="43.4" y="342.09999999999997" font-size="4.0" text-anchor="start" fill="#000" class="xs">41.7</text>
<text x="109.89999999999999" y="342.09999999999997" font-size="4.0" text-anchor="end" fill="#000" class="xs">20.1</text>
<line x1="40.8" y1="282.0" x2="42.4" y2="282.0" stroke="#333" stroke-width="0.5"/>
<text x="35.6" y="283.1" font-size="3.1" fill="#222" class="ns">10<tspan dy="-1.2" font-size="2.3">5</tspan></text>
<line x1="40.8" y1="298.0" x2="42.4" y2="298.0" stroke="#333" stroke-width="0.5"/>
<text x="35.6" y="299.1" font-size="3.1" fill="#222" class="ns">10<tspan dy="-1.2" font-size="2.3">4</tspan></text>
<line x1="40.8" y1="313.59999999999997" x2="42.4" y2="313.59999999999997" stroke="#333" stroke-width="0.5"/>
<text x="35.6" y="314.7" font-size="3.1" fill="#222" class="ns">10<tspan dy="-1.2" font-size="2.3">3</tspan></text>
<line x1="40.8" y1="329.7" x2="42.4" y2="329.7" stroke="#333" stroke-width="0.5"/>
<text x="35.6" y="330.8" font-size="3.1" fill="#222" class="ns">10<tspan dy="-1.2" font-size="2.3">2</tspan></text>
<line x1="40.8" y1="337.2" x2="42.4" y2="337.2" stroke="#333" stroke-width="0.5"/>
<text x="38.199999999999996" y="338.2" font-size="3.1" text-anchor="start" fill="#222" class="ns">0</text>
<line x1="56.0" y1="343.29999999999995" x2="56.0" y2="344.9" stroke="#333" stroke-width="0.5"/>
<text x="54.0" y="350.5" font-size="3.1" fill="#222" class="ns">10<tspan dy="-1.2" font-size="2.3">2</tspan></text>
<line x1="73.0" y1="343.29999999999995" x2="73.0" y2="344.9" stroke="#333" stroke-width="0.5"/>
<text x="71.0" y="350.5" font-size="3.1" fill="#222" class="ns">10<tspan dy="-1.2" font-size="2.3">3</tspan></text>
<line x1="89.19999999999999" y1="343.29999999999995" x2="89.19999999999999" y2="344.9" stroke="#333" stroke-width="0.5"/>
<text x="87.2" y="350.5" font-size="3.1" fill="#222" class="ns">10<tspan dy="-1.2" font-size="2.3">4</tspan></text>
<line x1="104.4" y1="343.29999999999995" x2="104.4" y2="344.9" stroke="#333" stroke-width="0.5"/>
<text x="102.4" y="350.5" font-size="3.1" fill="#222" class="ns">10<tspan dy="-1.2" font-size="2.3">5</tspan></text>
<line x1="49.199999999999996" y1="343.29999999999995" x2="49.199999999999996" y2="344.9" stroke="#333" stroke-width="0.5"/>
<text x="48.4" y="350.49999999999994" font-size="3.1" text-anchor="start" fill="#222" class="ns">0</text>
<text x="26.7" y="301.4" font-size="6.9" text-anchor="middle" font-weight="bold" fill="#111">7</text>
<text x="26.7" y="307.6" font-size="6.9" text-anchor="middle" font-weight="bold" fill="#111">A</text>
<text x="26.7" y="313.8" font-size="6.9" text-anchor="middle" font-weight="bold" fill="#111">A</text>
<text x="26.7" y="320.0" font-size="6.9" text-anchor="middle" font-weight="bold" fill="#111">D</text>
<text x="72.7" y="361.9" font-size="7.6" text-anchor="middle" fill="#000" class="sm">Annexin V</text>
<text x="158.6" y="265.4" font-size="10.4" text-anchor="start" fill="#111">Wortmannin + PTL 5µM</text>
<clipPath id="c6"><rect x="165.4" y="276.4" width="68.3" height="66.9"/></clipPath>
<g clip-path="url(#c6)">
<path d="M189.40,304.00C189.40,302.77 189.47,301.90 190.40,301.20C191.33,300.50 193.40,300.37 195.00,299.80C196.60,299.23 198.33,298.27 200.00,297.80C201.67,297.33 203.53,296.90 205.00,297.00C206.47,297.10 208.00,297.40 208.80,298.40C209.60,299.40 209.80,301.07 209.80,303.00C209.80,304.93 209.23,307.50 208.80,310.00C208.37,312.50 207.63,315.33 207.20,318.00C206.77,320.67 206.60,323.50 206.20,326.00C205.80,328.50 205.37,331.00 204.80,333.00C204.23,335.00 203.43,336.83 202.80,338.00C202.17,339.17 201.63,340.10 201.00,340.00C200.37,339.90 199.77,338.90 199.00,337.40C198.23,335.90 197.17,333.57 196.40,331.00C195.63,328.43 195.00,324.83 194.40,322.00C193.80,319.17 193.47,316.23 192.80,314.00C192.13,311.77 190.97,310.27 190.40,308.60C189.83,306.93 189.40,305.23 189.40,304.00Z" fill="#000" stroke="none" stroke-width="0"/>
<path d="M191.56,305.10C191.56,304.00 191.61,303.23 192.36,302.61C193.11,301.99 194.76,301.87 196.04,301.36C197.32,300.86 198.71,300.00 200.04,299.58C201.37,299.17 202.87,298.78 204.04,298.87C205.21,298.96 206.44,299.23 207.08,300.12C207.72,301.01 207.88,302.49 207.88,304.21C207.88,305.93 207.43,308.21 207.08,310.44C206.73,312.67 206.15,315.19 205.80,317.56C205.45,319.93 205.32,322.45 205.00,324.68C204.68,326.91 204.33,329.13 203.88,330.91C203.43,332.69 202.79,334.32 202.28,335.36C201.77,336.40 201.35,337.23 200.84,337.14C200.33,337.05 199.85,336.16 199.24,334.83C198.63,333.49 197.77,331.41 197.16,329.13C196.55,326.85 196.04,323.64 195.56,321.12C195.08,318.60 194.81,315.99 194.28,314.00C193.75,312.01 192.81,310.68 192.36,309.19C191.91,307.71 191.56,306.20 191.56,305.10Z" fill="#1e1e1e" stroke="#fff" stroke-width="0.7"/>
<path d="M196.60,316.40C197.20,315.17 199.23,314.60 200.60,314.60C201.97,314.60 204.10,315.17 204.80,316.40C205.50,317.63 205.00,319.90 204.80,322.00C204.60,324.10 204.23,326.73 203.60,329.00C202.97,331.27 201.83,335.60 201.00,335.60C200.17,335.60 199.27,331.27 198.60,329.00C197.93,326.73 197.33,324.10 197.00,322.00C196.67,319.90 196.00,317.63 196.60,316.40Z" fill="#b4b4b4" stroke="none" stroke-width="0" filter="url(#b1)"/>
<ellipse cx="200.7" cy="321.6" rx="2.3" ry="5.6" fill="#0a0a0a" stroke="none" stroke-width="0" filter="url(#b1)"/>
<ellipse cx="200.6" cy="306.2" rx="5.7" ry="4.902" fill="none" stroke="#fff" stroke-width="0.7"/>
<ellipse cx="200.6" cy="306.2" rx="4.1" ry="3.526" fill="none" stroke="#fff" stroke-width="0.7"/>
<ellipse cx="200.6" cy="306.2" rx="2.6" ry="2.2" fill="#5a5a5a" stroke="#fff" stroke-width="0.6"/>
<ellipse cx="200.8" cy="306.2" rx="1.1" ry="0.9" fill="#222" stroke="none" stroke-width="0.5"/>
<ellipse cx="200" cy="343.6" rx="2.0" ry="1.3" fill="#000" stroke="none" stroke-width="0.5"/>
</g>
<line x1="196.20000000000002" y1="276.4" x2="196.20000000000002" y2="343.29999999999995" stroke="#222" stroke-width="0.6"/>
<line x1="165.4" y1="316.4" x2="233.7" y2="316.4" stroke="#222" stroke-width="0.6"/>
<rect x="165.4" y="276.4" width="68.3" height="66.9" fill="none" stroke="#222" stroke-width="0.8"/>
<text x="166.4" y="281.09999999999997" font-size="4.0" text-anchor="start" fill="#000" class="xs">6.65</text>
<text x="232.89999999999998" y="281.09999999999997" font-size="4.0" text-anchor="end" fill="#000" class="xs">80.8</text>
<rect x="166.20000000000002" y="338.49999999999994" width="8.0" height="4.0" fill="#fff" stroke="none" stroke-width="0"/>
<text x="166.4" y="342.09999999999997" font-size="4.0" text-anchor="start" fill="#000" class="xs">1.23</text>
<text x="232.89999999999998" y="342.09999999999997" font-size="4.0" text-anchor="end" fill="#000" class="xs">11.4</text>
<line x1="163.8" y1="282.0" x2="165.4" y2="282.0" stroke="#333" stroke-width="0.5"/>
<text x="158.6" y="283.1" font-size="3.1" fill="#222" class="ns">10<tspan dy="-1.2" font-size="2.3">5</tspan></text>
<line x1="163.8" y1="298.0" x2="165.4" y2="298.0" stroke="#333" stroke-width="0.5"/>
<text x="158.6" y="299.1" font-size="3.1" fill="#222" class="ns">10<tspan dy="-1.2" font-size="2.3">4</tspan></text>
<line x1="163.8" y1="313.59999999999997" x2="165.4" y2="313.59999999999997" stroke="#333" stroke-width="0.5"/>
<text x="158.6" y="314.7" font-size="3.1" fill="#222" class="ns">10<tspan dy="-1.2" font-size="2.3">3</tspan></text>
<line x1="163.8" y1="329.7" x2="165.4" y2="329.7" stroke="#333" stroke-width="0.5"/>
<text x="158.6" y="330.8" font-size="3.1" fill="#222" class="ns">10<tspan dy="-1.2" font-size="2.3">2</tspan></text>
<line x1="163.8" y1="337.2" x2="165.4" y2="337.2" stroke="#333" stroke-width="0.5"/>
<text x="161.20000000000002" y="338.2" font-size="3.1" text-anchor="start" fill="#222" class="ns">0</text>
<line x1="179.0" y1="343.29999999999995" x2="179.0" y2="344.9" stroke="#333" stroke-width="0.5"/>
<text x="177.0" y="350.5" font-size="3.1" fill="#222" class="ns">10<tspan dy="-1.2" font-size="2.3">2</tspan></text>
<line x1="196.0" y1="343.29999999999995" x2="196.0" y2="344.9" stroke="#333" stroke-width="0.5"/>
<text x="194.0" y="350.5" font-size="3.1" fill="#222" class="ns">10<tspan dy="-1.2" font-size="2.3">3</tspan></text>
<line x1="212.2" y1="343.29999999999995" x2="212.2" y2="344.9" stroke="#333" stroke-width="0.5"/>
<text x="210.2" y="350.5" font-size="3.1" fill="#222" class="ns">10<tspan dy="-1.2" font-size="2.3">4</tspan></text>
<line x1="227.4" y1="343.29999999999995" x2="227.4" y2="344.9" stroke="#333" stroke-width="0.5"/>
<text x="225.4" y="350.5" font-size="3.1" fill="#222" class="ns">10<tspan dy="-1.2" font-size="2.3">5</tspan></text>
<line x1="172.20000000000002" y1="343.29999999999995" x2="172.20000000000002" y2="344.9" stroke="#333" stroke-width="0.5"/>
<text x="171.4" y="350.49999999999994" font-size="3.1" text-anchor="start" fill="#222" class="ns">0</text>
<text x="153" y="301.4" font-size="6.9" text-anchor="middle" font-weight="bold" fill="#111">7</text>
<text x="153" y="307.6" font-size="6.9" text-anchor="middle" font-weight="bold" fill="#111">A</text>
<text x="153" y="313.8" font-size="6.9" text-anchor="middle" font-weight="bold" fill="#111">A</text>
<text x="153" y="320.0" font-size="6.9" text-anchor="middle" font-weight="bold" fill="#111">D</text>
<text x="199.9" y="361.9" font-size="7.6" text-anchor="middle" fill="#000" class="sm">Annexin V</text>
<text x="297.5" y="15.0" font-size="17.8" text-anchor="start" font-weight="bold" fill="#000" class="ns">B</text>
<text x="323.4" y="15.2" font-size="13.2" text-anchor="start" fill="#111">Total Blasts</text>
<line x1="348.5" y1="45.075" x2="348.5" y2="127.125" stroke="#111" stroke-width="1.25"/>
<line x1="346.5" y1="45.7" x2="348.5" y2="45.7" stroke="#111" stroke-width="1.25"/>
<text x="346.4" y="48.33" font-size="7.3" text-anchor="end" fill="#111">100</text>
<line x1="346.5" y1="61.86" x2="348.5" y2="61.86" stroke="#111" stroke-width="1.25"/>
<text x="346.4" y="64.49" font-size="7.3" text-anchor="end" fill="#111">80</text>
<line x1="346.5" y1="78.02000000000001" x2="348.5" y2="78.02000000000001" stroke="#111" stroke-width="1.25"/>
<text x="346.4" y="80.65" font-size="7.3" text-anchor="end" fill="#111">60</text>
<line x1="346.5" y1="94.18" x2="348.5" y2="94.18" stroke="#111" stroke-width="1.25"/>
<text x="346.4" y="96.81" font-size="7.3" text-anchor="end" fill="#111">40</text>
<line x1="346.5" y1="110.34" x2="348.5" y2="110.34" stroke="#111" stroke-width="1.25"/>
<text x="346.4" y="112.97" font-size="7.3" text-anchor="end" fill="#111">20</text>
<line x1="346.5" y1="126.5" x2="348.5" y2="126.5" stroke="#111" stroke-width="1.25"/>
<text x="346.4" y="129.13" font-size="7.3" text-anchor="end" fill="#111">0</text>
<line x1="348.25" y1="126.5" x2="459" y2="126.5" stroke="#111" stroke-width="1.25"/>
<text x="336.0" y="80.4" font-size="11.6" text-anchor="middle" fill="#111" transform="rotate(-90 336.0 80.4)">% Viable</text>
<line x1="367.5" y1="73" x2="367.5" y2="67.9" stroke="#111" stroke-width="1.2"/>
<line x1="362" y1="68.5" x2="374" y2="68.5" stroke="#111" stroke-width="1.2"/>
<rect x="354.6" y="73.6" width="24.8" height="52.9" fill="#fff" stroke="#111" stroke-width="1.2"/>
<line x1="404.5" y1="73" x2="404.5" y2="64.9" stroke="#111" stroke-width="1.2"/>
<line x1="398" y1="65.5" x2="410" y2="65.5" stroke="#111" stroke-width="1.2"/>
<rect x="391.6" y="73.6" width="25.8" height="52.9" fill="#666" stroke="#111" stroke-width="1.2"/>
<line x1="441.5" y1="106" x2="441.5" y2="101.9" stroke="#111" stroke-width="1.2"/>
<line x1="436" y1="102.5" x2="448" y2="102.5" stroke="#111" stroke-width="1.2"/>
<rect x="428.6" y="106.6" width="24.8" height="19.9" fill="#000" stroke="#111" stroke-width="1.2"/>
<path d="M365.5,62.5 V46.4 H441 V99" fill="none" stroke="#111" stroke-width="1.1"/>
<path d="M404,62.5 V51 H438 V99" fill="none" stroke="#111" stroke-width="1.1"/>
<text x="385" y="44.8" font-size="7.2" text-anchor="start" fill="#111">** P &lt; 0.01</text>
<text x="405.5" y="59.2" font-size="7.2" text-anchor="start" fill="#111">**P &lt; 0.01</text>
<text x="367" y="133.2" font-size="6.7" text-anchor="middle" fill="#111">PTL 2.5uM</text>
<line x1="367" y1="126.5" x2="367" y2="128.1" stroke="#111" stroke-width="0.8"/>
<text x="404.5" y="133.2" font-size="6.7" text-anchor="middle" fill="#111">Wort 5uM</text>
<line x1="404.5" y1="126.5" x2="404.5" y2="128.1" stroke="#111" stroke-width="0.8"/>
<text x="441" y="133.2" font-size="6.7" text-anchor="middle" fill="#111">PTL/Wort</text>
<line x1="441" y1="126.5" x2="441" y2="128.1" stroke="#111" stroke-width="0.8"/>
<text x="301.3" y="158.2" font-size="17.8" text-anchor="start" font-weight="bold" fill="#000" class="ns">C</text>
<text x="324.6" y="157.6" font-size="13.4" text-anchor="start" fill="#111">CD34+CD38-</text>
<line x1="346.5" y1="179.54999999999998" x2="346.5" y2="268.05" stroke="#111" stroke-width="1.1"/>
<line x1="344.6" y1="180.1" x2="346.5" y2="180.1" stroke="#111" stroke-width="1.1"/>
<text x="344.8" y="181.97" font-size="5.2" text-anchor="end" fill="#111">100</text>
<line x1="344.6" y1="197.57999999999998" x2="346.5" y2="197.57999999999998" stroke="#111" stroke-width="1.1"/>
<text x="344.8" y="199.45" font-size="5.2" text-anchor="end" fill="#111">80</text>
<line x1="344.6" y1="215.06" x2="346.5" y2="215.06" stroke="#111" stroke-width="1.1"/>
<text x="344.8" y="216.93" font-size="5.2" text-anchor="end" fill="#111">60</text>
<line x1="344.6" y1="232.54" x2="346.5" y2="232.54" stroke="#111" stroke-width="1.1"/>
<text x="344.8" y="234.41" font-size="5.2" text-anchor="end" fill="#111">40</text>
<line x1="344.6" y1="250.02" x2="346.5" y2="250.02" stroke="#111" stroke-width="1.1"/>
<text x="344.8" y="251.89" font-size="5.2" text-anchor="end" fill="#111">20</text>
<line x1="344.6" y1="267.5" x2="346.5" y2="267.5" stroke="#111" stroke-width="1.1"/>
<text x="344.8" y="269.37" font-size="5.2" text-anchor="end" fill="#111">0</text>
<line x1="346.0" y1="267.5" x2="432.5" y2="267.5" stroke="#111" stroke-width="1.1"/>
<text x="334.4" y="223" font-size="11.8" text-anchor="middle" fill="#111" transform="rotate(-90 334.4 223)">% Viable</text>
<line x1="361.5" y1="199" x2="361.5" y2="193.975" stroke="#111" stroke-width="1.05"/>
<line x1="356" y1="194.5" x2="366" y2="194.5" stroke="#111" stroke-width="1.05"/>
<rect x="351.525" y="199.525" width="19.95" height="67.975" fill="#fff" stroke="#111" stroke-width="1.05"/>
<line x1="390.5" y1="213" x2="390.5" y2="204.975" stroke="#111" stroke-width="1.05"/>
<line x1="386" y1="205.5" x2="396" y2="205.5" stroke="#111" stroke-width="1.05"/>
<rect x="380.525" y="213.525" width="19.95" height="53.975" fill="#aaa" stroke="#111" stroke-width="1.05"/>
<line x1="420.5" y1="249" x2="420.5" y2="242.975" stroke="#111" stroke-width="1.05"/>
<line x1="416" y1="243.5" x2="426" y2="243.5" stroke="#111" stroke-width="1.05"/>
<rect x="410.525" y="249.525" width="18.95" height="17.975" fill="#000" stroke="#111" stroke-width="1.05"/>
<path d="M362.9,190.3 V181.6 H417 V239" fill="none" stroke="#111" stroke-width="0.95"/>
<path d="M389.8,201.2 V192.4 H420.5 V239" fill="none" stroke="#111" stroke-width="0.95"/>
<text x="407.5" y="180" font-size="5.3" text-anchor="start" fill="#111">P &lt; 0.01</text>
<text x="423" y="202" font-size="5.3" text-anchor="start" fill="#111">P &lt; 0.001</text>
<text x="360.4" y="272.9" font-size="5.0" text-anchor="middle" fill="#111">PTL</text>
<line x1="360.4" y1="267.5" x2="360.4" y2="268.8" stroke="#111" stroke-width="0.7"/>
<text x="390.2" y="272.9" font-size="5.0" text-anchor="middle" fill="#111">Wort</text>
<line x1="390.2" y1="267.5" x2="390.2" y2="268.8" stroke="#111" stroke-width="0.7"/>
<text x="419.6" y="272.9" font-size="5.0" text-anchor="middle" fill="#111">Wort/PTL</text>
<line x1="419.6" y1="267.5" x2="419.6" y2="268.8" stroke="#111" stroke-width="0.7"/>
<text x="300.1" y="303.6" font-size="17.8" text-anchor="start" font-weight="bold" fill="#000" class="ns">D</text>
<line x1="354.5" y1="293.84999999999997" x2="354.5" y2="357.15000000000003" stroke="#111" stroke-width="1.1"/>
<line x1="352.0" y1="294.4" x2="354.5" y2="294.4" stroke="#111" stroke-width="1.1"/>
<text x="352" y="296.2" font-size="5" text-anchor="end" font-weight="bold" fill="#111">100</text>
<line x1="352.0" y1="309.95" x2="354.5" y2="309.95" stroke="#111" stroke-width="1.1"/>
<text x="352" y="311.75" font-size="5" text-anchor="end" font-weight="bold" fill="#111">75</text>
<line x1="352.0" y1="325.5" x2="354.5" y2="325.5" stroke="#111" stroke-width="1.1"/>
<text x="352" y="327.3" font-size="5" text-anchor="end" font-weight="bold" fill="#111">50</text>
<line x1="352.0" y1="341.05" x2="354.5" y2="341.05" stroke="#111" stroke-width="1.1"/>
<text x="352" y="342.85" font-size="5" text-anchor="end" font-weight="bold" fill="#111">25</text>
<line x1="352.0" y1="356.6" x2="354.5" y2="356.6" stroke="#111" stroke-width="1.1"/>
<text x="352" y="358.4" font-size="5" text-anchor="end" font-weight="bold" fill="#111">0</text>
<line x1="354.1" y1="356.6" x2="485" y2="356.6" stroke="#111" stroke-width="1.1"/>
<text x="339.9" y="327.8" font-size="8.4" text-anchor="middle" fill="#111" transform="rotate(-90 339.9 327.8)">%CFU relative to UT</text>
<line x1="365.5" y1="315" x2="365.5" y2="293.975" stroke="#111" stroke-width="1.05"/>
<line x1="361" y1="294.5" x2="370" y2="294.5" stroke="#777" stroke-width="1.05"/>
<rect x="358.525" y="315.525" width="13.95" height="41.075000000000024" fill="#000" stroke="#111" stroke-width="1.05"/>
<line x1="387.5" y1="302" x2="387.5" y2="297.975" stroke="#111" stroke-width="1.05"/>
<line x1="384" y1="298.5" x2="392" y2="298.5" stroke="#111" stroke-width="1.05"/>
<rect x="379.525" y="302.525" width="14.95" height="54.075000000000024" fill="#fff" stroke="#111" stroke-width="1.05"/>
<line x1="409.5" y1="353" x2="409.5" y2="347.975" stroke="#111" stroke-width="1.05"/>
<line x1="406" y1="348.5" x2="413" y2="348.5" stroke="#111" stroke-width="1.05"/>
<rect x="402.525" y="353.525" width="12.95" height="3.075000000000023" fill="url(#hatch)" stroke="#111" stroke-width="1.05"/>
<text x="409" y="350.2" font-size="9.6" text-anchor="middle" font-weight="bold" fill="#000">**</text>
<line x1="430.5" y1="300" x2="430.5" y2="293.975" stroke="#111" stroke-width="1.05"/>
<line x1="426" y1="294.5" x2="434" y2="294.5" stroke="#777" stroke-width="1.05"/>
<rect x="423.525" y="300.525" width="13.95" height="56.075000000000024" fill="#000" stroke="#111" stroke-width="1.05"/>
<line x1="452.5" y1="301" x2="452.5" y2="298.975" stroke="#111" stroke-width="1.05"/>
<line x1="448" y1="299.5" x2="456" y2="299.5" stroke="#111" stroke-width="1.05"/>
<rect x="444.525" y="301.525" width="14.95" height="55.075000000000024" fill="#fff" stroke="#111" stroke-width="1.05"/>
<line x1="474.5" y1="304" x2="474.5" y2="293.975" stroke="#111" stroke-width="1.05"/>
<line x1="471" y1="294.5" x2="478" y2="294.5" stroke="#777" stroke-width="1.05"/>
<rect x="466.525" y="304.525" width="14.95" height="52.075000000000024" fill="url(#hatch)" stroke="#111" stroke-width="1.05"/>
<text x="365.2" y="364.2" font-size="4.9" text-anchor="middle" font-weight="bold" fill="#111">Wort</text>
<line x1="365.2" y1="356.6" x2="365.2" y2="357.90000000000003" stroke="#111" stroke-width="0.7"/>
<text x="387.2" y="364.2" font-size="4.9" text-anchor="middle" font-weight="bold" fill="#111">PTL</text>
<line x1="387.2" y1="356.6" x2="387.2" y2="357.90000000000003" stroke="#111" stroke-width="0.7"/>
<text x="409" y="364.2" font-size="4.9" text-anchor="middle" font-weight="bold" fill="#111">PTL-Wort</text>
<line x1="409" y1="356.6" x2="409" y2="357.90000000000003" stroke="#111" stroke-width="0.7"/>
<text x="430.5" y="364.2" font-size="4.9" text-anchor="middle" font-weight="bold" fill="#111">Wort</text>
<line x1="430.5" y1="356.6" x2="430.5" y2="357.90000000000003" stroke="#111" stroke-width="0.7"/>
<text x="452" y="364.2" font-size="4.9" text-anchor="middle" font-weight="bold" fill="#111">PTL</text>
<line x1="452" y1="356.6" x2="452" y2="357.90000000000003" stroke="#111" stroke-width="0.7"/>
<text x="473.8" y="364.2" font-size="4.9" text-anchor="middle" font-weight="bold" fill="#111">PTL-Wort</text>
<line x1="473.8" y1="356.6" x2="473.8" y2="357.90000000000003" stroke="#111" stroke-width="0.7"/>
<line x1="357.5" y1="369.5" x2="420" y2="369.5" stroke="#111" stroke-width="1.1"/>
<line x1="424" y1="369.5" x2="485" y2="369.5" stroke="#111" stroke-width="1.1"/>
<text x="388.3" y="379.4" font-size="5.9" text-anchor="middle" fill="#111">AML</text>
<text x="456.6" y="378.2" font-size="5.9" text-anchor="middle" fill="#111">Normal</text>
<text x="456.6" y="385.3" font-size="6.0" text-anchor="middle" fill="#111">(myeloid/erythroid)</text>
<text x="1.9" y="406.8" font-size="17.8" text-anchor="start" font-weight="bold" fill="#000" class="ns">E</text>
<line x1="94.5" y1="404.175" x2="94.5" y2="515.725" stroke="#111" stroke-width="1.25"/>
<line x1="91.0" y1="404.8" x2="94.5" y2="404.8" stroke="#111" stroke-width="1.25"/>
<text x="89.8" y="408.04" font-size="9.0" text-anchor="end" fill="#111">70</text>
<line x1="91.0" y1="420.5571428571429" x2="94.5" y2="420.5571428571429" stroke="#111" stroke-width="1.25"/>
<text x="89.8" y="423.8" font-size="9.0" text-anchor="end" fill="#111">60</text>
<line x1="91.0" y1="436.31428571428575" x2="94.5" y2="436.31428571428575" stroke="#111" stroke-width="1.25"/>
<text x="89.8" y="439.55" font-size="9.0" text-anchor="end" fill="#111">50</text>
<line x1="91.0" y1="452.0714285714286" x2="94.5" y2="452.0714285714286" stroke="#111" stroke-width="1.25"/>
<text x="89.8" y="455.31" font-size="9.0" text-anchor="end" fill="#111">40</text>
<line x1="91.0" y1="467.8285714285714" x2="94.5" y2="467.8285714285714" stroke="#111" stroke-width="1.25"/>
<text x="89.8" y="471.07" font-size="9.0" text-anchor="end" fill="#111">30</text>
<line x1="91.0" y1="483.5857142857143" x2="94.5" y2="483.5857142857143" stroke="#111" stroke-width="1.25"/>
<text x="89.8" y="486.83" font-size="9.0" text-anchor="end" fill="#111">20</text>
<line x1="91.0" y1="499.34285714285716" x2="94.5" y2="499.34285714285716" stroke="#111" stroke-width="1.25"/>
<text x="89.8" y="502.58" font-size="9.0" text-anchor="end" fill="#111">10</text>
<line x1="91.0" y1="515.1" x2="94.5" y2="515.1" stroke="#111" stroke-width="1.25"/>
<text x="89.8" y="518.34" font-size="9.0" text-anchor="end" fill="#111">0</text>
<line x1="93.89999999999999" y1="515.1" x2="245" y2="515.1" stroke="#111" stroke-width="1.25"/>
<text x="66.8" y="470.3" font-size="11.55" text-anchor="middle" fill="#111" transform="rotate(-90 66.8 470.3)">%CFU relative to UT</text>
<line x1="120.5" y1="428" x2="120.5" y2="407.875" stroke="#111" stroke-width="1.25"/>
<line x1="112" y1="408.5" x2="130" y2="408.5" stroke="#111" stroke-width="1.25"/>
<rect x="104.625" y="428.625" width="31.75" height="86.47500000000002" fill="#000" stroke="#111" stroke-width="1.25"/>
<line x1="170.5" y1="417" x2="170.5" y2="408.875" stroke="#111" stroke-width="1.25"/>
<line x1="162" y1="409.5" x2="179" y2="409.5" stroke="#111" stroke-width="1.25"/>
<rect x="153.625" y="417.625" width="32.75" height="97.47500000000002" fill="#fff" stroke="#111" stroke-width="1.25"/>
<line x1="220.5" y1="492" x2="220.5" y2="478.875" stroke="#111" stroke-width="1.25"/>
<line x1="212" y1="479.5" x2="229" y2="479.5" stroke="#111" stroke-width="1.25"/>
<rect x="203.625" y="492.625" width="32.75" height="22.475000000000023" fill="url(#hatch)" stroke="#111" stroke-width="1.25"/>
<text x="205.2" y="472.6" font-size="10" fill="#111"><tspan font-size="6.4" dy="-3">*</tspan><tspan dy="3" dx="2.6">P&lt;0.05</tspan></text>
<text x="119.6" y="526.6" font-size="9.5" text-anchor="middle" fill="#111">PTL</text>
<line x1="119.6" y1="515.1" x2="119.6" y2="517.7" stroke="#111" stroke-width="1"/>
<text x="169.8" y="526.6" font-size="9.5" text-anchor="middle" fill="#111">TEM</text>
<line x1="169.8" y1="515.1" x2="169.8" y2="517.7" stroke="#111" stroke-width="1"/>
<text x="220" y="526.6" font-size="9.5" text-anchor="middle" fill="#111">PTL-TEM</text>
<line x1="220" y1="515.1" x2="220" y2="517.7" stroke="#111" stroke-width="1"/>
<line x1="316.5" y1="404.425" x2="316.5" y2="519.075" stroke="#111" stroke-width="1.15"/>
<line x1="314.6" y1="405.0" x2="316.5" y2="405.0" stroke="#111" stroke-width="1.15"/>
<text x="313.0" y="407.7" font-size="7.5" text-anchor="end" fill="#111">120</text>
<line x1="314.6" y1="423.9166666666667" x2="316.5" y2="423.9166666666667" stroke="#111" stroke-width="1.15"/>
<text x="313.0" y="426.62" font-size="7.5" text-anchor="end" fill="#111">100</text>
<line x1="314.6" y1="442.8333333333333" x2="316.5" y2="442.8333333333333" stroke="#111" stroke-width="1.15"/>
<text x="313.0" y="445.53" font-size="7.5" text-anchor="end" fill="#111">80</text>
<line x1="314.6" y1="461.75" x2="316.5" y2="461.75" stroke="#111" stroke-width="1.15"/>
<text x="313.0" y="464.45" font-size="7.5" text-anchor="end" fill="#111">60</text>
<line x1="314.6" y1="480.6666666666667" x2="316.5" y2="480.6666666666667" stroke="#111" stroke-width="1.15"/>
<text x="313.0" y="483.37" font-size="7.5" text-anchor="end" fill="#111">40</text>
<line x1="314.6" y1="499.5833333333333" x2="316.5" y2="499.5833333333333" stroke="#111" stroke-width="1.15"/>
<text x="313.0" y="502.28" font-size="7.5" text-anchor="end" fill="#111">20</text>
<line x1="314.6" y1="518.5" x2="316.5" y2="518.5" stroke="#111" stroke-width="1.15"/>
<text x="313.0" y="521.2" font-size="7.5" text-anchor="end" fill="#111">0</text>
<line x1="315.4" y1="518.5" x2="482.5" y2="518.5" stroke="#111" stroke-width="1.15"/>
<text x="298.2" y="469.5" font-size="11.7" text-anchor="middle" fill="#111" transform="rotate(-90 298.2 469.5)">%CFU relative to UT</text>
<line x1="330.5" y1="437" x2="330.5" y2="423.925" stroke="#111" stroke-width="1.15"/>
<line x1="326" y1="424.5" x2="335" y2="424.5" stroke="#111" stroke-width="1.15"/>
<rect x="321.575" y="437.575" width="17.85" height="80.925" fill="#fff" stroke="#111" stroke-width="1.15"/>
<line x1="358.5" y1="432" x2="358.5" y2="416.925" stroke="#111" stroke-width="1.15"/>
<line x1="354" y1="417.5" x2="363" y2="417.5" stroke="#111" stroke-width="1.15"/>
<rect x="349.575" y="432.575" width="17.85" height="85.925" fill="#fff" stroke="#111" stroke-width="1.15"/>
<line x1="385.5" y1="449" x2="385.5" y2="426.925" stroke="#111" stroke-width="1.15"/>
<line x1="381" y1="427.5" x2="390" y2="427.5" stroke="#111" stroke-width="1.15"/>
<rect x="376.575" y="449.575" width="17.85" height="68.925" fill="#fff" stroke="#111" stroke-width="1.15"/>
<line x1="413.5" y1="450" x2="413.5" y2="442.925" stroke="#111" stroke-width="1.15"/>
<line x1="409" y1="443.5" x2="418" y2="443.5" stroke="#111" stroke-width="1.15"/>
<rect x="404.575" y="450.575" width="17.85" height="67.925" fill="#000" stroke="#111" stroke-width="1.15"/>
<line x1="441.5" y1="434" x2="441.5" y2="419.925" stroke="#111" stroke-width="1.15"/>
<line x1="437" y1="420.5" x2="446" y2="420.5" stroke="#111" stroke-width="1.15"/>
<rect x="431.575" y="434.575" width="18.85" height="83.925" fill="#000" stroke="#111" stroke-width="1.15"/>
<rect x="459.575" y="456.575" width="18.85" height="61.925" fill="#000" stroke="#111" stroke-width="1.15"/>
<text x="330" y="528.0" font-size="8.1" text-anchor="middle" fill="#111">PTL</text>
<line x1="330" y1="518.5" x2="330" y2="520.7" stroke="#111" stroke-width="0.9"/>
<text x="358" y="528.0" font-size="8.1" text-anchor="middle" fill="#111">TEM</text>
<line x1="358" y1="518.5" x2="358" y2="520.7" stroke="#111" stroke-width="0.9"/>
<text x="386" y="528.0" font-size="8.1" text-anchor="middle" fill="#111">P + T</text>
<line x1="386" y1="518.5" x2="386" y2="520.7" stroke="#111" stroke-width="0.9"/>
<text x="413" y="528.0" font-size="8.1" text-anchor="middle" fill="#111">PTL</text>
<line x1="413" y1="518.5" x2="413" y2="520.7" stroke="#111" stroke-width="0.9"/>
<text x="441" y="528.0" font-size="8.1" text-anchor="middle" fill="#111">TEM</text>
<line x1="441" y1="518.5" x2="441" y2="520.7" stroke="#111" stroke-width="0.9"/>
<text x="469" y="528.0" font-size="8.1" text-anchor="middle" fill="#111">P + T</text>
<line x1="469" y1="518.5" x2="469" y2="520.7" stroke="#111" stroke-width="0.9"/>
<line x1="318" y1="533.6" x2="397" y2="533.6" stroke="#111" stroke-width="1.1"/>
<line x1="403" y1="533.6" x2="481" y2="533.6" stroke="#111" stroke-width="1.1"/>
<text x="365.6" y="543.7" font-size="8.3" text-anchor="middle" fill="#111">Myeloid</text>
<text x="451" y="543.7" font-size="8.3" text-anchor="middle" fill="#111">Erythroid</text>
<text x="1.9" y="576.0" font-size="17.4" text-anchor="start" font-weight="bold" fill="#000" class="ns">F</text>
<line x1="28" y1="583.2" x2="307.5" y2="583.2" stroke="#000" stroke-width="2"/>
<line x1="350" y1="583.2" x2="513.5" y2="583.2" stroke="#000" stroke-width="2"/>
<text x="154" y="575.6" font-size="10.8" text-anchor="middle" fill="#111">AML</text>
<text x="429.2" y="575.8" font-size="10.9" text-anchor="middle" fill="#111">Normal BM</text>
<line x1="54.5" y1="594.8249999999999" x2="54.5" y2="725.1750000000001" stroke="#111" stroke-width="1.15"/>
<line x1="52.7" y1="595.4" x2="54.5" y2="595.4" stroke="#111" stroke-width="1.15"/>
<text x="52.0" y="598.5" font-size="8.6" text-anchor="end" fill="#111">50</text>
<line x1="52.7" y1="621.24" x2="54.5" y2="621.24" stroke="#111" stroke-width="1.15"/>
<text x="52.0" y="624.34" font-size="8.6" text-anchor="end" fill="#111">40</text>
<line x1="52.7" y1="647.08" x2="54.5" y2="647.08" stroke="#111" stroke-width="1.15"/>
<text x="52.0" y="650.18" font-size="8.6" text-anchor="end" fill="#111">30</text>
<line x1="52.7" y1="672.92" x2="54.5" y2="672.92" stroke="#111" stroke-width="1.15"/>
<text x="52.0" y="676.02" font-size="8.6" text-anchor="end" fill="#111">20</text>
<line x1="52.7" y1="698.76" x2="54.5" y2="698.76" stroke="#111" stroke-width="1.15"/>
<text x="52.0" y="701.86" font-size="8.6" text-anchor="end" fill="#111">10</text>
<line x1="52.7" y1="724.6" x2="54.5" y2="724.6" stroke="#111" stroke-width="1.15"/>
<text x="52.0" y="727.7" font-size="8.6" text-anchor="end" fill="#111">0</text>
<line x1="53.699999999999996" y1="724.6" x2="151" y2="724.6" stroke="#111" stroke-width="1.15"/>
<text x="34.2" y="658.1" font-size="8.1" text-anchor="middle" fill="#111" transform="rotate(-90 34.2 658.1)">% Human cells</text>
<line x1="62.5" y1="657.5" x2="94.5" y2="657.5" stroke="#111" stroke-width="1.05"/>
<circle cx="78.2" cy="605.736" r="1.6" fill="#808080" stroke="#000" stroke-width="1.0"/>
<circle cx="78.2" cy="630.0255999999999" r="1.6" fill="#808080" stroke="#000" stroke-width="1.0"/>
<circle cx="78.2" cy="636.744" r="1.6" fill="#808080" stroke="#000" stroke-width="1.0"/>
<circle cx="78.2" cy="647.08" r="1.6" fill="#808080" stroke="#000" stroke-width="1.0"/>
<circle cx="78.2" cy="652.248" r="1.6" fill="#808080" stroke="#000" stroke-width="1.0"/>
<circle cx="78.2" cy="657.9328" r="1.6" fill="#808080" stroke="#000" stroke-width="1.0"/>
<circle cx="78.2" cy="671.628" r="1.6" fill="#808080" stroke="#000" stroke-width="1.0"/>
<circle cx="78.2" cy="704.4448" r="1.6" fill="#808080" stroke="#000" stroke-width="1.0"/>
<circle cx="78.2" cy="711.6800000000001" r="1.6" fill="#808080" stroke="#000" stroke-width="1.0"/>
<line x1="110.5" y1="721.5" x2="143" y2="721.5" stroke="#111" stroke-width="1.05"/>
<circle cx="116.2" cy="720.6" r="1.5" fill="#fff" stroke="#000" stroke-width="0.8"/>
<circle cx="119.3" cy="720.4" r="1.5" fill="#fff" stroke="#000" stroke-width="0.8"/>
<circle cx="122.4" cy="721.0" r="1.5" fill="#fff" stroke="#000" stroke-width="0.8"/>
<circle cx="125.5" cy="721.6" r="1.5" fill="#fff" stroke="#000" stroke-width="0.8"/>
<circle cx="128.6" cy="721.2" r="1.5" fill="#fff" stroke="#000" stroke-width="0.8"/>
<circle cx="131.7" cy="720.8" r="1.5" fill="#fff" stroke="#000" stroke-width="0.8"/>
<circle cx="134.8" cy="720.6" r="1.5" fill="#fff" stroke="#000" stroke-width="0.8"/>
<circle cx="137.9" cy="720.8" r="1.5" fill="#fff" stroke="#000" stroke-width="0.8"/>
<circle cx="141" cy="720.2" r="1.5" fill="#fff" stroke="#000" stroke-width="0.8"/>
<text x="104.4" y="703.7" font-size="8.15" fill="#111"><tspan font-size="7.4" dy="-1.0">***</tspan><tspan dy="1.0" dx="1.2">P&lt;0.0001</tspan></text>
<text x="78.3" y="734.2" font-size="8" text-anchor="middle" fill="#111">Untreated</text>
<line x1="78.3" y1="724.6" x2="78.3" y2="726.8000000000001" stroke="#111" stroke-width="0.9"/>
<text x="127" y="734.2" font-size="8" text-anchor="middle" fill="#111">PTL + TEM</text>
<line x1="127" y1="724.6" x2="127" y2="726.8000000000001" stroke="#111" stroke-width="0.9"/>
<line x1="185.5" y1="594.8249999999999" x2="185.5" y2="725.1750000000001" stroke="#111" stroke-width="1.15"/>
<line x1="183.7" y1="595.4" x2="185.5" y2="595.4" stroke="#111" stroke-width="1.15"/>
<text x="183.8" y="598.5" font-size="8.6" text-anchor="end" fill="#111">100</text>
<line x1="183.7" y1="621.24" x2="185.5" y2="621.24" stroke="#111" stroke-width="1.15"/>
<text x="183.8" y="624.34" font-size="8.6" text-anchor="end" fill="#111">80</text>
<line x1="183.7" y1="647.08" x2="185.5" y2="647.08" stroke="#111" stroke-width="1.15"/>
<text x="183.8" y="650.18" font-size="8.6" text-anchor="end" fill="#111">60</text>
<line x1="183.7" y1="672.92" x2="185.5" y2="672.92" stroke="#111" stroke-width="1.15"/>
<text x="183.8" y="676.02" font-size="8.6" text-anchor="end" fill="#111">40</text>
<line x1="183.7" y1="698.76" x2="185.5" y2="698.76" stroke="#111" stroke-width="1.15"/>
<text x="183.8" y="701.86" font-size="8.6" text-anchor="end" fill="#111">20</text>
<line x1="183.7" y1="724.6" x2="185.5" y2="724.6" stroke="#111" stroke-width="1.15"/>
<text x="183.8" y="727.7" font-size="8.6" text-anchor="end" fill="#111">0</text>
<line x1="184.8" y1="724.6" x2="305" y2="724.6" stroke="#111" stroke-width="1.15"/>
<text x="165.3" y="658.3" font-size="8.1" text-anchor="middle" fill="#111" transform="rotate(-90 165.3 658.3)">% CD34+</text>
<line x1="195.5" y1="605.5" x2="235" y2="605.5" stroke="#111" stroke-width="1.05"/>
<circle cx="202.5" cy="600" r="1.6" fill="#808080" stroke="#000" stroke-width="1.0"/>
<circle cx="208.8" cy="599.4" r="1.6" fill="#808080" stroke="#000" stroke-width="1.0"/>
<circle cx="208.8" cy="601.6" r="1.6" fill="#808080" stroke="#000" stroke-width="1.0"/>
<circle cx="218" cy="599" r="1.6" fill="#808080" stroke="#000" stroke-width="1.0"/>
<circle cx="221.2" cy="601.2" r="1.6" fill="#808080" stroke="#000" stroke-width="1.0"/>
<circle cx="228" cy="600" r="1.6" fill="#808080" stroke="#000" stroke-width="1.0"/>
<circle cx="215" cy="605" r="1.6" fill="#808080" stroke="#000" stroke-width="1.0"/>
<circle cx="221.6" cy="618.2" r="1.6" fill="#808080" stroke="#000" stroke-width="1.0"/>
<circle cx="215.2" cy="624.2" r="1.6" fill="#808080" stroke="#000" stroke-width="1.0"/>
<line x1="255" y1="707.5" x2="295" y2="707.5" stroke="#111" stroke-width="1.05"/>
<circle cx="268.8" cy="700" r="1.6" fill="#fff" stroke="#000" stroke-width="1.0"/>
<circle cx="275.4" cy="696.2" r="1.6" fill="#fff" stroke="#000" stroke-width="1.0"/>
<circle cx="275.4" cy="702.4" r="1.6" fill="#fff" stroke="#000" stroke-width="1.0"/>
<circle cx="281.8" cy="701.2" r="1.6" fill="#fff" stroke="#000" stroke-width="1.0"/>
<circle cx="288" cy="697" r="1.6" fill="#fff" stroke="#000" stroke-width="1.0"/>
<circle cx="281.6" cy="706.8" r="1.6" fill="#fff" stroke="#000" stroke-width="1.0"/>
<circle cx="268.8" cy="711.8" r="1.6" fill="#fff" stroke="#000" stroke-width="1.0"/>
<circle cx="275.4" cy="712.6" r="1.6" fill="#fff" stroke="#000" stroke-width="1.0"/>
<circle cx="281.2" cy="720.4" r="1.6" fill="#fff" stroke="#000" stroke-width="1.0"/>
<circle cx="275" cy="722.4" r="1.6" fill="#fff" stroke="#000" stroke-width="1.0"/>
<text x="254.4" y="683.6" font-size="8.15" fill="#111"><tspan font-size="7.4" dy="-1.0">***</tspan><tspan dy="1.0" dx="1.2">P&lt;0.0001</tspan></text>
<text x="215" y="734.2" font-size="8" text-anchor="middle" fill="#111">Untreated</text>
<line x1="215" y1="724.6" x2="215" y2="726.8000000000001" stroke="#111" stroke-width="0.9"/>
<text x="275" y="734.2" font-size="8" text-anchor="middle" fill="#111">PTL + TEM</text>
<line x1="275" y1="724.6" x2="275" y2="726.8000000000001" stroke="#111" stroke-width="0.9"/>
<line x1="357.5" y1="601.55" x2="357.5" y2="724.85" stroke="#111" stroke-width="0.9"/>
<line x1="354.8" y1="602.0" x2="357.5" y2="602.0" stroke="#111" stroke-width="0.9"/>
<text x="354.8" y="604.3" font-size="6.4" text-anchor="end" fill="#111">80</text>
<line x1="354.8" y1="617.3" x2="357.5" y2="617.3" stroke="#111" stroke-width="0.9"/>
<text x="354.8" y="619.6" font-size="6.4" text-anchor="end" fill="#111">70</text>
<line x1="354.8" y1="632.6" x2="357.5" y2="632.6" stroke="#111" stroke-width="0.9"/>
<text x="354.8" y="634.9" font-size="6.4" text-anchor="end" fill="#111">60</text>
<line x1="354.8" y1="647.9" x2="357.5" y2="647.9" stroke="#111" stroke-width="0.9"/>
<text x="354.8" y="650.2" font-size="6.4" text-anchor="end" fill="#111">50</text>
<line x1="354.8" y1="663.2" x2="357.5" y2="663.2" stroke="#111" stroke-width="0.9"/>
<text x="354.8" y="665.5" font-size="6.4" text-anchor="end" fill="#111">40</text>
<line x1="354.8" y1="678.5" x2="357.5" y2="678.5" stroke="#111" stroke-width="0.9"/>
<text x="354.8" y="680.8" font-size="6.4" text-anchor="end" fill="#111">30</text>
<line x1="354.8" y1="693.8" x2="357.5" y2="693.8" stroke="#111" stroke-width="0.9"/>
<text x="354.8" y="696.1" font-size="6.4" text-anchor="end" fill="#111">20</text>
<line x1="354.8" y1="709.1" x2="357.5" y2="709.1" stroke="#111" stroke-width="0.9"/>
<text x="354.8" y="711.4" font-size="6.4" text-anchor="end" fill="#111">10</text>
<line x1="354.8" y1="724.4" x2="357.5" y2="724.4" stroke="#111" stroke-width="0.9"/>
<text x="354.8" y="726.7" font-size="6.4" text-anchor="end" fill="#111">0</text>
<line x1="357.1" y1="724.4" x2="515" y2="724.4" stroke="#111" stroke-width="0.9"/>
<text x="336.9" y="659.2" font-size="7.9" text-anchor="middle" fill="#111" transform="rotate(-90 336.9 659.2)">% CD expression within human cells</text>
<line x1="361.2" y1="632.5" x2="379.2" y2="632.5" stroke="#111" stroke-width="1.0"/>
<circle cx="370.2" cy="606" r="1.5" fill="#fff" stroke="#000" stroke-width="0.95"/>
<circle cx="370.2" cy="607.4" r="1.5" fill="#fff" stroke="#000" stroke-width="0.95"/>
<circle cx="370.2" cy="613" r="1.5" fill="#fff" stroke="#000" stroke-width="0.95"/>
<circle cx="370.2" cy="618" r="1.5" fill="#fff" stroke="#000" stroke-width="0.95"/>
<circle cx="370.2" cy="624" r="1.5" fill="#fff" stroke="#000" stroke-width="0.95"/>
<circle cx="370.2" cy="629" r="1.5" fill="#fff" stroke="#000" stroke-width="0.95"/>
<circle cx="370.2" cy="631.2" r="1.5" fill="#fff" stroke="#000" stroke-width="0.95"/>
<circle cx="370.2" cy="633.6" r="1.5" fill="#fff" stroke="#000" stroke-width="0.95"/>
<circle cx="370.2" cy="645.4" r="1.5" fill="#fff" stroke="#000" stroke-width="0.95"/>
<circle cx="370.2" cy="651" r="1.5" fill="#fff" stroke="#000" stroke-width="0.95"/>
<circle cx="370.2" cy="661" r="1.5" fill="#fff" stroke="#000" stroke-width="0.95"/>
<circle cx="370.2" cy="682" r="1.5" fill="#fff" stroke="#000" stroke-width="0.95"/>
<line x1="387.6" y1="706.5" x2="405.6" y2="706.5" stroke="#111" stroke-width="1.0"/>
<circle cx="396.6" cy="694" r="1.5" fill="#fff" stroke="#000" stroke-width="0.95"/>
<circle cx="396.6" cy="699" r="1.5" fill="#fff" stroke="#000" stroke-width="0.95"/>
<circle cx="396.6" cy="701" r="1.5" fill="#fff" stroke="#000" stroke-width="0.95"/>
<circle cx="396.6" cy="706" r="1.5" fill="#fff" stroke="#000" stroke-width="0.95"/>
<circle cx="396.6" cy="708" r="1.5" fill="#fff" stroke="#000" stroke-width="0.95"/>
<circle cx="396.6" cy="709.6" r="1.5" fill="#fff" stroke="#000" stroke-width="0.95"/>
<circle cx="396.6" cy="712" r="1.5" fill="#fff" stroke="#000" stroke-width="0.95"/>
<circle cx="396.6" cy="714" r="1.5" fill="#fff" stroke="#000" stroke-width="0.95"/>
<circle cx="396.6" cy="717" r="1.5" fill="#fff" stroke="#000" stroke-width="0.95"/>
<circle cx="396.6" cy="720" r="1.5" fill="#fff" stroke="#000" stroke-width="0.95"/>
<line x1="414" y1="712.5" x2="432" y2="712.5" stroke="#111" stroke-width="1.0"/>
<circle cx="423" cy="697.4" r="1.5" fill="#fff" stroke="#000" stroke-width="0.95"/>
<circle cx="423" cy="706.4" r="1.5" fill="#fff" stroke="#000" stroke-width="0.95"/>
<circle cx="423" cy="708" r="1.5" fill="#fff" stroke="#000" stroke-width="0.95"/>
<circle cx="423" cy="710" r="1.5" fill="#fff" stroke="#000" stroke-width="0.95"/>
<circle cx="423" cy="712" r="1.5" fill="#fff" stroke="#000" stroke-width="0.95"/>
<circle cx="423" cy="713.6" r="1.5" fill="#fff" stroke="#000" stroke-width="0.95"/>
<circle cx="423" cy="716" r="1.5" fill="#fff" stroke="#000" stroke-width="0.95"/>
<circle cx="423" cy="717.6" r="1.5" fill="#fff" stroke="#000" stroke-width="0.95"/>
<line x1="440.2" y1="656.5" x2="458.2" y2="656.5" stroke="#111" stroke-width="1.0"/>
<circle cx="449.2" cy="633.4" r="1.5" fill="#fff" stroke="#000" stroke-width="0.95"/>
<circle cx="449.2" cy="640" r="1.5" fill="#fff" stroke="#000" stroke-width="0.95"/>
<circle cx="449.2" cy="642" r="1.5" fill="#fff" stroke="#000" stroke-width="0.95"/>
<circle cx="449.2" cy="644" r="1.5" fill="#fff" stroke="#000" stroke-width="0.95"/>
<circle cx="449.2" cy="652.6" r="1.5" fill="#fff" stroke="#000" stroke-width="0.95"/>
<circle cx="449.2" cy="658" r="1.5" fill="#fff" stroke="#000" stroke-width="0.95"/>
<circle cx="449.2" cy="662.6" r="1.5" fill="#fff" stroke="#000" stroke-width="0.95"/>
<circle cx="449.2" cy="665" r="1.5" fill="#fff" stroke="#000" stroke-width="0.95"/>
<circle cx="449.2" cy="699" r="1.5" fill="#fff" stroke="#000" stroke-width="0.95"/>
<circle cx="449.2" cy="708" r="1.5" fill="#fff" stroke="#000" stroke-width="0.95"/>
<line x1="466.8" y1="699.5" x2="484.8" y2="699.5" stroke="#111" stroke-width="1.0"/>
<circle cx="475.8" cy="687.6" r="1.5" fill="#fff" stroke="#000" stroke-width="0.95"/>
<circle cx="475.8" cy="690" r="1.5" fill="#fff" stroke="#000" stroke-width="0.95"/>
<circle cx="475.8" cy="692.6" r="1.5" fill="#fff" stroke="#000" stroke-width="0.95"/>
<circle cx="475.8" cy="695" r="1.5" fill="#fff" stroke="#000" stroke-width="0.95"/>
<circle cx="475.8" cy="697" r="1.5" fill="#fff" stroke="#000" stroke-width="0.95"/>
<circle cx="475.8" cy="702.6" r="1.5" fill="#fff" stroke="#000" stroke-width="0.95"/>
<circle cx="475.8" cy="705" r="1.5" fill="#fff" stroke="#000" stroke-width="0.95"/>
<circle cx="475.8" cy="714" r="1.5" fill="#fff" stroke="#000" stroke-width="0.95"/>
<circle cx="475.8" cy="720" r="1.5" fill="#fff" stroke="#000" stroke-width="0.95"/>
<line x1="493" y1="709.5" x2="511" y2="709.5" stroke="#111" stroke-width="1.0"/>
<circle cx="502" cy="700" r="1.5" fill="#fff" stroke="#000" stroke-width="0.95"/>
<circle cx="502" cy="702.6" r="1.5" fill="#fff" stroke="#000" stroke-width="0.95"/>
<circle cx="502" cy="705" r="1.5" fill="#fff" stroke="#000" stroke-width="0.95"/>
<circle cx="502" cy="707.6" r="1.5" fill="#fff" stroke="#000" stroke-width="0.95"/>
<circle cx="502" cy="710.4" r="1.5" fill="#fff" stroke="#000" stroke-width="0.95"/>
<circle cx="502" cy="712.6" r="1.5" fill="#fff" stroke="#000" stroke-width="0.95"/>
<circle cx="502" cy="715" r="1.5" fill="#fff" stroke="#000" stroke-width="0.95"/>
<circle cx="502" cy="717.6" r="1.5" fill="#fff" stroke="#000" stroke-width="0.95"/>
<circle cx="502" cy="720" r="1.5" fill="#fff" stroke="#000" stroke-width="0.95"/>
<text x="370.2" y="731.6" font-size="6.5" text-anchor="middle" fill="#111">CD19+</text>
<line x1="370.2" y1="724.4" x2="370.2" y2="726.1999999999999" stroke="#111" stroke-width="0.8"/>
<text x="396.6" y="731.6" font-size="6.5" text-anchor="middle" fill="#111">CD33+</text>
<line x1="396.6" y1="724.4" x2="396.6" y2="726.1999999999999" stroke="#111" stroke-width="0.8"/>
<text x="423" y="731.6" font-size="6.5" text-anchor="middle" fill="#111">CD34+</text>
<line x1="423" y1="724.4" x2="423" y2="726.1999999999999" stroke="#111" stroke-width="0.8"/>
<text x="449.2" y="731.6" font-size="6.5" text-anchor="middle" fill="#111">CD19+</text>
<line x1="449.2" y1="724.4" x2="449.2" y2="726.1999999999999" stroke="#111" stroke-width="0.8"/>
<text x="475.8" y="731.6" font-size="6.5" text-anchor="middle" fill="#111">CD33+</text>
<line x1="475.8" y1="724.4" x2="475.8" y2="726.1999999999999" stroke="#111" stroke-width="0.8"/>
<text x="502" y="731.6" font-size="6.5" text-anchor="middle" fill="#111">CD34+</text>
<line x1="502" y1="724.4" x2="502" y2="726.1999999999999" stroke="#111" stroke-width="0.8"/>
<line x1="357.5" y1="735.2" x2="435.5" y2="735.2" stroke="#111" stroke-width="1.1"/>
<line x1="438" y1="735.2" x2="517" y2="735.2" stroke="#111" stroke-width="1.1"/>
<text x="395" y="743.7" font-size="6.6" text-anchor="middle" fill="#111">Untreated</text>
<text x="479" y="743.6" font-size="6.6" text-anchor="middle" fill="#111">PTL + TEM</text>
</svg></body></html>
